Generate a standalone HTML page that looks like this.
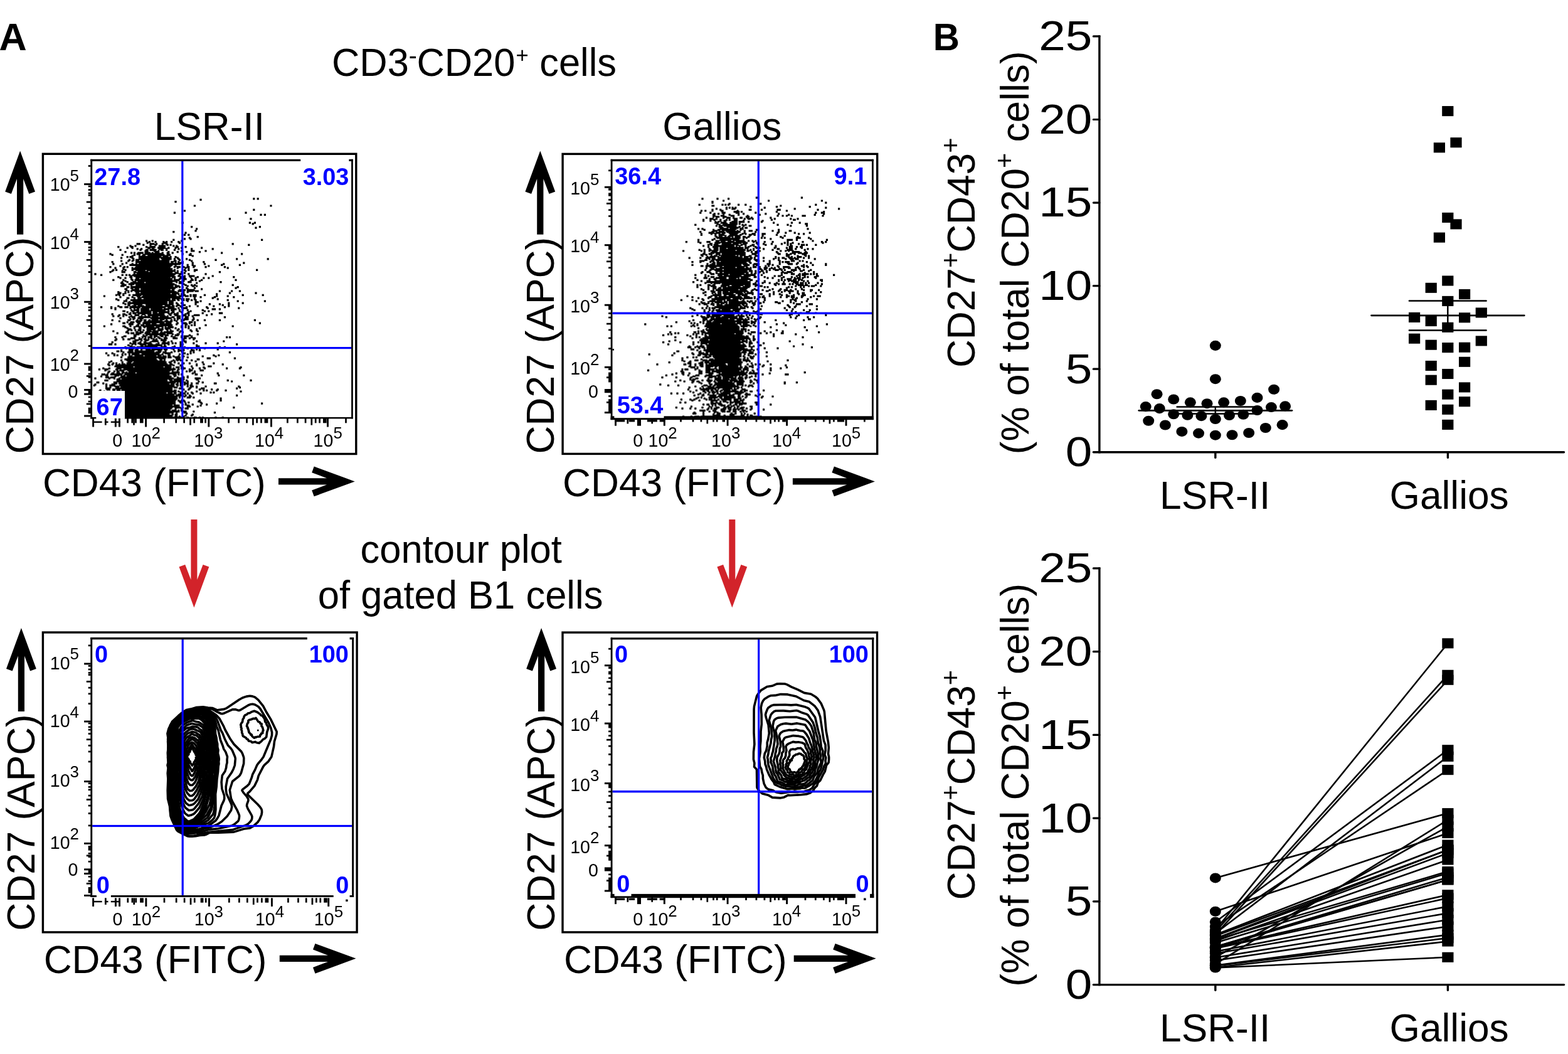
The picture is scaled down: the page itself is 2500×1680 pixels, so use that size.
<!DOCTYPE html>
<html lang="en"><head><meta charset="utf-8"><title>Figure: CD27+CD43+ B1 cells, LSR-II vs Gallios</title>
<style>html,body{margin:0;padding:0;background:#fff}body{width:2500px;height:1680px;overflow:hidden}svg{display:block}</style>
</head><body>
<svg xmlns="http://www.w3.org/2000/svg" width="2500" height="1680" viewBox="0 0 2500 1680" font-family="'Liberation Sans', Arial, Helvetica, sans-serif" fill="#000">
<rect x="0" y="0" width="2500" height="1680" fill="#fff"/>
<text transform="translate(-1.6,79.9)" font-size="61.2" font-weight="bold">A</text>
<text transform="translate(1487.8,79.9) scale(0.955,1)" font-size="61.2" font-weight="bold">B</text>
<text transform="translate(529,121.2) scale(1,1.02)" font-size="61.4"><tspan x="0" y="0">CD3</tspan><tspan x="122.8" y="-18.73" font-size="39">-</tspan><tspan x="135.4" y="0">CD20</tspan><tspan x="293.4" y="-21.08" font-size="34.6">+</tspan><tspan x="314.2" y="0"> cells</tspan></text>
<text transform="translate(333.8,223.3) scale(1,1.02)" font-size="62.2" text-anchor="middle">LSR-II</text>
<text transform="translate(1151.3,223.3) scale(1,1.02)" font-size="62.2" text-anchor="middle">Gallios</text>
<text transform="translate(735.2,896.6) scale(1,1.02)" font-size="61.5" text-anchor="middle">contour plot</text>
<text transform="translate(734.1,970.4) scale(1,1.02)" font-size="61.5" text-anchor="middle">of gated B1 cells</text>
<polygon points="309.4,968.6 333.3,903.6 323.6,900.1 314.4,924 314.4,827.9 304.4,827.9 304.4,924 295.2,900.1 285.5,903.6" fill="#d2232a"/>
<polygon points="1167.3,968.6 1191.2,903.6 1181.5,900.1 1172.3,924 1172.3,827.9 1162.3,827.9 1162.3,924 1153.1,900.1 1143.4,903.6" fill="#d2232a"/>
<rect x="68.4" y="245.3" width="499.4" height="478.2" fill="#fff" stroke="#000" stroke-width="3.4"/>
<text transform="translate(53.4,723.4) rotate(-90) scale(1,1.02)" font-size="62.2">CD27 (APC)</text>
<polygon points="32.1,240.5 56,305.5 46.3,309 37.2,285.1 37.2,373.7 27,373.7 27,285.1 17.9,309 8.2,305.5" fill="#000"/>
<text transform="translate(67.9,790.9) scale(1,1.02)" font-size="62.2">CD43 (FITC)</text>
<polygon points="565.7,767.4 500.7,791.3 497.2,781.6 521.1,772.5 444,772.5 444,762.3 521.1,762.3 497.2,753.2 500.7,743.5" fill="#000"/>
<path transform="scale(1.6)" d="M252 198h2m2 0h2m-59 1h2m-27 2h2m17 4h2m74 0h2m-19 4h2m-71 1h2m-12 2h2m69 0h2m13 2h2m2 0h2m-37 4h2m19 0h2m-70 4h2m65 0h2m3 0h2m-4 1h2m-63 3h2m66 0h2m-6 1h2m-61 1h2m-3 2h2m-24 1h2m10 1h2m-3 2h2m2 0h2m7 2h2m-10 1h2m-7 1h2m4 0h2m-19 1h2m86 0h2m-117 1h2m4 0h2m27 0h2m-34 1h2m4 0h2m6 0h2m1 0h2m3 0h2m5 0h2m-33 1h2m15 0h2m13 0h2m-44 1h4m9 0h5m1 0h2m4 0h2m2 0h2m64 0h2m-91 1h2m10 0h2m10 0h2m1 0h2m76 0h2m-120 1h2m3 0h2m13 0h2m7 0h7m7 0h2m1 0h2m-60 1h2m11 0h3m12 0h2m3 0h5m21 0h2m6 0h2m-60 1h2m3 0h2m14 0h3m1 0h2m4 0h8m2 0h2m5 0h2m4 0h2m18 0h2m-66 1h2m2 0h2m10 0h2m4 0h2m1 0h2m2 0h2m10 0h2m11 0h2m19 0h2m-94 1h2m18 0h2m4 0h3m1 0h7m4 0h3m2 0h2m6 0h2m-31 1h2m7 0h3m1 0h2m21 0h2m8 0h4m10 0h2m-82 1h2m20 0h2m6 0h5m8 0h2m7 0h2m7 0h2m11 0h2m-70 1h2m1 0h2m2 0h6m1 0h6m1 0h2m1 0h2m5 0h2m3 0h2m3 0h2m47 0h2m-113 1h2m25 0h4m4 0h19m4 0h2m12 0h2m6 0h2m49 0h2m-131 1h2m8 0h2m10 0h2m3 0h2m2 0h2m3 0h9m5 0h3m2 0h4m18 0h3m-60 1h2m8 0h4m2 0h14m1 0h5m24 0h2m-67 1h2m1 0h2m7 0h11m2 0h9m4 0h4m1 0h2m3 0h2m-56 1h2m9 0h2m6 0h3m1 0h8m9 0h4m1 0h4m7 0h2m-46 1h2m4 0h3m1 0h2m1 0h14m2 0h7m1 0h2m2 0h2m2 0h2m6 0h2m48 0h2m29 0h2m-140 1h2m2 0h2m1 0h4m1 0h2m1 0h4m1 0h11m2 0h8m4 0h2m3 0h2m8 0h2m24 0h2m-96 1h2m5 0h2m2 0h2m3 0h2m3 0h2m3 0h19m2 0h2m4 0h3m14 0h2m-81 1h2m22 0h7m1 0h25m2 0h3m1 0h2m1 0h2m2 0h2m19 0h2m-79 1h2m11 0h2m1 0h13m1 0h11m1 0h2m10 0h4m8 0h2m49 0h2m-132 1h2m7 0h2m8 0h2m2 0h2m2 0h3m3 0h18m1 0h3m1 0h12m23 0h2m17 0h2m-95 1h6m1 0h5m1 0h16m2 0h9m1 0h2m14 0h2m3 0h2m27 0h2m16 0h2m-121 1h2m14 0h22m1 0h4m2 0h7m3 0h2m17 0h2m12 0h2m-100 1h2m12 0h2m1 0h2m8 0h5m1 0h4m1 0h3m1 0h15m2 0h2m3 0h2m1 0h4m2 0h2m2 0h3m3 0h2m10 0h2m17 0h2m-111 1h2m6 0h2m7 0h2m1 0h3m1 0h2m1 0h29m6 0h2m6 0h2m1 0h2m37 0h2m-106 1h2m9 0h2m1 0h36m-60 1h2m1 0h2m7 0h2m5 0h2m2 0h2m2 0h3m4 0h19m1 0h6m1 0h2m8 0h2m2 0h2m4 0h4m58 0h2m-146 1h2m8 0h2m14 0h8m1 0h2m1 0h8m1 0h5m1 0h3m3 0h5m1 0h2m6 0h2m7 0h2m-86 1h2m10 0h4m8 0h3m2 0h6m1 0h3m1 0h9m2 0h12m4 0h2m2 0h2m36 0h2m-84 1h3m1 0h3m1 0h26m4 0h4m2 0h2m1 0h2m-91 1h2m37 0h2m1 0h21m1 0h10m1 0h6m3 0h3m6 0h2m15 0h2m-106 1h2m19 0h2m2 0h2m1 0h2m2 0h2m1 0h21m1 0h13m1 0h3m-44 1h2m1 0h7m2 0h29m1 0h2m3 0h3m3 0h2m3 0h6m17 0h2m-96 1h2m10 0h3m6 0h31m2 0h4m4 0h4m6 0h2m5 0h2m34 0h2m-115 1h2m3 0h2m9 0h4m1 0h3m1 0h10m1 0h15m10 0h5m9 0h2m6 0h2m3 0h2m-79 1h2m4 0h3m1 0h4m1 0h27m1 0h2m3 0h2m2 0h4m4 0h2m-80 1h2m8 0h2m7 0h2m1 0h8m2 0h11m1 0h14m4 0h5m12 0h2m1 0h2m4 0h2m32 0h2m-112 1h2m8 0h2m5 0h9m1 0h17m2 0h5m7 0h2m5 0h2m7 0h2m-79 1h2m3 0h2m4 0h2m3 0h7m1 0h26m4 0h2m1 0h3m6 0h4m28 0h2m-101 1h3m7 0h2m1 0h5m1 0h4m2 0h22m2 0h3m6 0h5m12 0h2m-75 1h2m4 0h6m3 0h37m8 0h2m-63 1h2m1 0h2m9 0h4m1 0h21m1 0h8m4 0h2m8 0h2m4 0h2m1 0h2m36 0h2m-113 1h4m6 0h2m3 0h27m1 0h10m3 0h3m7 0h2m3 0h3m1 0h2m-71 1h3m2 0h4m4 0h20m2 0h5m4 0h3m1 0h3m1 0h2m1 0h2m53 0h2m-108 1h2m2 0h5m3 0h2m1 0h19m2 0h6m1 0h2m10 0h2m6 0h2m39 0h2m-112 1h3m4 0h2m1 0h5m1 0h20m1 0h7m3 0h3m12 0h2m12 0h2m-77 1h2m5 0h2m1 0h2m3 0h30m8 0h7m1 0h8m-67 1h2m1 0h2m2 0h34m1 0h5m3 0h4m7 0h5m1 0h4m20 0h2m10 0h2m6 0h2m-123 1h2m5 0h2m1 0h2m6 0h4m1 0h2m1 0h16m1 0h5m1 0h10m6 0h2m2 0h2m-69 1h2m3 0h2m9 0h3m4 0h3m1 0h17m1 0h6m1 0h7m50 0h2m24 0h2m-139 1h2m3 0h2m13 0h11m2 0h15m1 0h3m4 0h3m1 0h2m1 0h4m31 0h2m-102 1h2m1 0h2m2 0h2m4 0h2m2 0h5m1 0h3m1 0h34m7 0h2m4 0h2m1 0h4m7 0h2m36 0h2m18 0h2m-160 1h2m31 0h2m4 0h27m3 0h4m2 0h5m1 0h4m1 0h2m1 0h4m19 0h2m9 0h2m-109 1h2m10 0h2m5 0h2m1 0h10m1 0h4m1 0h5m1 0h2m3 0h4m1 0h6m20 0h2m12 0h2m17 0h2m-108 1h3m4 0h2m2 0h4m2 0h4m2 0h14m2 0h4m2 0h2m1 0h3m1 0h2m13 0h2m16 0h2m-98 1h2m20 0h4m2 0h3m1 0h8m1 0h14m1 0h3m2 0h3m1 0h4m1 0h4m4 0h2m21 0h2m-101 1h2m6 0h2m3 0h40m2 0h3m2 0h2m2 0h3m1 0h3m2 0h2m2 0h2m30 0h2m-105 1h4m8 0h32m1 0h4m14 0h2m6 0h2m3 0h2m35 0h2m25 0h2m-137 1h2m2 0h3m3 0h2m1 0h11m1 0h4m2 0h2m2 0h3m5 0h2m23 0h2m-76 1h2m3 0h20m1 0h2m1 0h8m1 0h7m1 0h5m2 0h2m3 0h3m11 0h2m31 0h2m12 0h2m-119 1h2m9 0h7m4 0h6m1 0h4m1 0h9m1 0h3m5 0h2m3 0h2m11 0h2m12 0h2m8 0h2m-93 1h3m3 0h3m2 0h4m3 0h14m6 0h5m1 0h2m4 0h2m3 0h3m36 0h2m4 0h2m-112 1h2m12 0h2m1 0h2m1 0h7m1 0h17m2 0h6m2 0h2m1 0h2m2 0h2m7 0h2m6 0h2m14 0h2m13 0h2m-129 1h2m8 0h2m7 0h3m2 0h4m1 0h8m1 0h2m1 0h16m1 0h7m2 0h2m1 0h2m8 0h2m3 0h2m18 0h2m16 0h2m-115 1h2m2 0h2m13 0h2m6 0h2m5 0h2m1 0h2m1 0h12m1 0h2m3 0h3m1 0h2m3 0h2m3 0h5m19 0h2m29 0h2m-125 1h2m17 0h2m1 0h2m2 0h8m3 0h3m1 0h6m3 0h5m1 0h3m1 0h2m5 0h2m28 0h4m3 0h2m-90 1h2m2 0h5m1 0h3m1 0h5m1 0h2m1 0h12m5 0h4m4 0h2m1 0h2m3 0h2m13 0h2m-81 1h3m6 0h3m2 0h3m1 0h8m1 0h2m1 0h8m7 0h2m3 0h2m4 0h2m9 0h2m12 0h2m2 0h2m-83 1h2m4 0h2m2 0h2m2 0h2m1 0h8m2 0h4m1 0h10m3 0h3m6 0h2m5 0h2m-60 1h2m1 0h4m1 0h6m2 0h6m1 0h4m2 0h6m3 0h2m1 0h2m4 0h2m8 0h2m13 0h2m15 0h4m-111 1h2m9 0h3m3 0h3m10 0h4m2 0h2m3 0h9m1 0h2m4 0h2m3 0h3m8 0h2m1 0h2m21 0h2m-94 1h2m5 0h2m7 0h5m8 0h5m2 0h9m6 0h2m3 0h4m4 0h4m1 0h2m4 0h6m6 0h2m-95 1h2m3 0h2m3 0h2m6 0h2m8 0h2m2 0h2m1 0h2m2 0h7m1 0h3m1 0h2m1 0h2m10 0h2m1 0h2m8 0h2m-65 1h2m1 0h4m3 0h12m1 0h6m3 0h4m1 0h3m3 0h3m2 0h2m6 0h4m35 0h2m-106 1h2m11 0h3m2 0h6m7 0h3m4 0h14m7 0h2m12 0h2m-65 1h2m1 0h2m18 0h6m1 0h2m1 0h2m9 0h2m1 0h2m5 0h5m4 0h2m-83 1h2m14 0h3m6 0h2m1 0h3m1 0h3m2 0h2m1 0h2m2 0h2m3 0h2m3 0h2m3 0h2m1 0h2m5 0h4m7 0h2m3 0h2m5 0h2m13 0h2m33 0h2m-137 1h2m15 0h6m2 0h2m2 0h14m3 0h4m1 0h3m3 0h2m3 0h2m-56 1h2m2 0h4m2 0h3m6 0h2m2 0h3m1 0h11m1 0h6m17 0h4m1 0h2m-73 1h3m4 0h3m5 0h3m2 0h3m1 0h3m2 0h5m4 0h2m3 0h6m5 0h2m3 0h5m2 0h2m68 0h2m-150 1h2m16 0h2m1 0h2m4 0h2m3 0h2m1 0h5m1 0h4m4 0h6m10 0h2m8 0h2m6 0h2m-66 1h2m5 0h2m2 0h2m3 0h2m2 0h2m3 0h5m1 0h2m1 0h9m12 0h2m4 0h2m1 0h2m9 0h2m-103 1h2m17 0h3m4 0h2m4 0h4m3 0h8m1 0h3m2 0h7m1 0h2m1 0h4m9 0h2m2 0h2m1 0h2m42 0h2m-109 1h2m7 0h2m4 0h2m2 0h2m1 0h7m2 0h4m2 0h2m1 0h2m3 0h4m7 0h2m2 0h2m-60 1h2m5 0h2m3 0h3m6 0h2m3 0h4m1 0h2m5 0h6m4 0h2m11 0h2m9 0h2m-73 1h4m15 0h2m1 0h5m3 0h6m2 0h3m9 0h2m16 0h2m-70 1h2m1 0h2m2 0h2m1 0h4m1 0h2m2 0h5m2 0h2m2 0h5m7 0h2m5 0h2m11 0h2m4 0h2m-85 1h2m12 0h2m11 0h2m5 0h5m1 0h5m9 0h2m2 0h3m6 0h3m8 0h2m4 0h2m-73 1h2m8 0h3m3 0h2m2 0h3m3 0h2m1 0h4m2 0h2m1 0h8m7 0h2m1 0h2m-67 1h2m9 0h2m1 0h4m4 0h3m3 0h2m2 0h2m3 0h5m1 0h6m3 0h4m-37 1h4m6 0h4m1 0h9m3 0h3m1 0h2m3 0h2m3 0h3m17 0h2m-65 1h2m7 0h2m1 0h2m2 0h2m2 0h2m4 0h4m1 0h4m6 0h4m10 0h2m-67 1h3m7 0h3m7 0h2m4 0h3m3 0h2m3 0h3m1 0h2m4 0h2m8 0h2m1 0h5m2 0h2m-78 1h2m5 0h2m18 0h2m1 0h2m1 0h3m3 0h2m2 0h2m13 0h3m5 0h2m8 0h2m33 0h2m1 0h2m-100 1h5m3 0h2m7 0h2m1 0h2m6 0h2m3 0h4m5 0h5m6 0h3m2 0h2m2 0h3m-80 1h2m5 0h2m3 0h3m8 0h4m1 0h3m1 0h2m3 0h2m1 0h2m3 0h2m1 0h2m17 0h2m8 0h2m-80 1h2m18 0h4m2 0h2m4 0h2m5 0h3m4 0h3m1 0h2m16 0h2m-52 1h2m10 0h2m5 0h7m4 0h2m6 0h2m11 0h3m9 0h2m25 0h2m-113 1h2m21 0h2m3 0h2m2 0h2m4 0h2m12 0h2m2 0h2m10 0h2m3 0h2m-57 1h2m1 0h2m3 0h2m6 0h4m8 0h2m2 0h8m2 0h2m1 0h2m16 0h2m10 0h2m10 0h2m-110 1h4m2 0h2m15 0h2m1 0h2m3 0h7m1 0h5m3 0h3m5 0h2m2 0h2m10 0h4m52 0h2m-110 1h2m23 0h10m1 0h2m30 0h2m-68 1h3m8 0h3m1 0h12m4 0h2m2 0h2m7 0h2m4 0h2m14 0h4m-75 1h2m6 0h3m1 0h8m2 0h5m3 0h3m4 0h4m6 0h2m10 0h2m33 0h2m3 0h2m-100 1h2m1 0h3m1 0h2m7 0h6m1 0h2m1 0h9m5 0h2m3 0h3m13 0h2m15 0h2m-74 1h2m2 0h3m2 0h2m4 0h3m3 0h6m2 0h2m1 0h4m5 0h2m3 0h2m3 0h2m6 0h2m3 0h2m1 0h2m16 0h2m-98 1h2m6 0h4m2 0h2m9 0h2m1 0h5m4 0h3m19 0h2m1 0h2m7 0h3m4 0h2m-84 1h3m1 0h2m9 0h2m3 0h10m1 0h3m2 0h2m3 0h4m3 0h2m7 0h2m2 0h2m1 0h3m6 0h2m-69 1h2m3 0h5m2 0h20m1 0h2m1 0h2m2 0h2m6 0h2m20 0h2m34 0h2m-125 1h2m4 0h2m19 0h3m6 0h2m3 0h2m2 0h2m1 0h6m5 0h6m11 0h4m4 0h2m-78 1h2m6 0h2m1 0h2m2 0h2m1 0h8m3 0h11m2 0h4m2 0h2m15 0h2m6 0h2m-81 1h2m4 0h2m1 0h2m3 0h2m11 0h3m2 0h4m2 0h11m3 0h2m6 0h3m11 0h2m29 0h2m3 0h2m-91 1h4m3 0h5m1 0h2m1 0h3m1 0h2m2 0h2m3 0h4m1 0h4m2 0h2m2 0h2m3 0h2m3 0h2m17 0h2m11 0h2m-96 1h2m5 0h2m3 0h30m2 0h2m1 0h4m3 0h6m6 0h2m-59 1h4m1 0h6m1 0h12m5 0h7m13 0h2m1 0h2m23 0h4m23 0h2m-111 1h22m1 0h3m3 0h3m19 0h4m17 0h3m-79 1h2m4 0h2m1 0h11m2 0h15m2 0h3m1 0h2m7 0h2m2 0h2m1 0h2m4 0h2m3 0h2m-82 1h2m15 0h5m1 0h3m1 0h14m1 0h8m1 0h3m6 0h2m1 0h2m19 0h2m-88 1h2m11 0h2m10 0h2m1 0h2m1 0h18m2 0h4m1 0h2m2 0h3m2 0h2m26 0h2m-91 1h2m1 0h2m9 0h5m1 0h19m2 0h11m5 0h2m6 0h2m2 0h3m4 0h2m22 0h2m-107 1h2m2 0h2m5 0h2m1 0h4m1 0h33m1 0h7m3 0h2m23 0h2m5 0h2m17 0h2m-115 1h2m5 0h8m1 0h2m1 0h31m1 0h11m2 0h2m5 0h3m13 0h2m-83 1h2m7 0h4m2 0h3m2 0h2m1 0h26m3 0h2m1 0h2m19 0h2m15 0h4m-95 1h17m1 0h13m1 0h15m1 0h2m1 0h4m4 0h4m1 0h3m19 0h2m35 0h2m-139 1h2m4 0h2m7 0h4m2 0h2m1 0h11m1 0h23m1 0h8m2 0h2m3 0h2m1 0h2m1 0h2m6 0h2m5 0h2m3 0h2m20 0h2m11 0h2m-142 1h2m4 0h4m7 0h2m6 0h41m3 0h8m2 0h2m2 0h2m5 0h2m-86 1h2m10 0h2m1 0h5m3 0h43m6 0h2m10 0h4m7 0h4m-95 1h2m3 0h2m2 0h2m2 0h2m5 0h37m1 0h3m2 0h2m12 0h2m1 0h2m3 0h2m-88 1h2m7 0h3m2 0h3m1 0h2m1 0h7m1 0h2m1 0h27m7 0h6m14 0h2m-84 1h3m4 0h2m1 0h2m1 0h11m1 0h23m1 0h2m1 0h10m1 0h2m15 0h2m23 0h2m-117 1h4m1 0h2m2 0h12m2 0h44m4 0h3m2 0h2m1 0h2m12 0h3m-92 1h3m8 0h3m1 0h2m1 0h2m1 0h43m5 0h2m24 0h2m15 0h2m23 0h2m-144 1h2m3 0h2m7 0h2m4 0h4m2 0h34m1 0h10m2 0h2m6 0h2m3 0h2m-83 1h4m1 0h5m5 0h6m5 0h40m5 0h2m4 0h2m2 0h2m-94 1h2m12 0h2m3 0h2m3 0h2m3 0h40m1 0h5m2 0h2m3 0h5m13 0h6m-84 1h4m1 0h2m1 0h43m1 0h4m1 0h4m5 0h2m11 0h3m-94 1h4m9 0h4m1 0h45m2 0h2m3 0h8m3 0h2m39 0h2m21 0h2m-135 1h2m1 0h48m2 0h5m1 0h2m1 0h5m3 0h2m9 0h2m31 0h2m-136 1h3m14 0h3m2 0h57m1 0h2m5 0h2m16 0h2m-101 1h2m11 0h2m1 0h5m1 0h42m4 0h2m7 0h3m3 0h3m2 0h2m3 0h3m15 0h3m-122 1h2m9 0h2m4 0h4m4 0h2m1 0h42m1 0h4m1 0h4m1 0h3m5 0h2m1 0h2m2 0h2m-99 1h2m10 0h2m2 0h6m4 0h44m1 0h10m2 0h2m1 0h2m8 0h2m-82 1h2m3 0h5m1 0h4m1 0h49m6 0h2m4 0h2m3 0h2m2 0h2m7 0h2m31 0h2m-134 1h2m2 0h2m4 0h3m3 0h51m1 0h4m12 0h2m4 0h2m41 0h2m-135 1h4m6 0h52m3 0h2m6 0h4m6 0h2m10 0h4m31 0h2m-131 1h4m2 0h3m2 0h3m1 0h50m11 0h2m3 0h2m9 0h2m10 0h2m4 0h2m-119 1h2m15 0h4m3 0h46m1 0h2m1 0h3m26 0h2m1 0h2m8 0h2m7 0h2m-128 1h2m3 0h2m7 0h3m3 0h58m1 0h2m5 0h2m9 0h2m42 0h2m-127 1h2m2 0h48m1 0h4m8 0h2m9 0h2m17 0h2m1 0h2m-115 1h2m12 0h10m2 0h41m1 0h5m1 0h3m3 0h2m1 0h3m1 0h2m3 0h2m6 0h2m-96 1h2m11 0h51m1 0h4m3 0h2m-65 1h2m2 0h56m1 0h8m1 0h2m2 0h2m45 0h2m-144 1h2m15 0h2m3 0h2m1 0h59m1 0h2m3 0h2m4 0h2m-70 1h50m1 0h2m1 0h2m1 0h2m6 0h4m2 0h2m-90 1h5m4 0h2m2 0h2m2 0h49m1 0h6m42 0h2m-125 1h2m6 0h5m2 0h3m1 0h2m2 0h52m1 0h4m-72 1h2m3 0h6m1 0h2m1 0h45m1 0h5m1 0h4m2 0h2m1 0h4m14 0h2m19 0h2m-112 1h3m7 0h3m2 0h4m1 0h44m5 0h2m3 0h2m12 0h2m-102 1h2m4 0h2m6 0h4m2 0h2m1 0h2m1 0h49m1 0h2m4 0h3m5 0h2m10 0h2m-90 1h2m3 0h5m2 0h5m1 0h41m1 0h4m9 0h2m14 0h2m13 0h2m43 0h2m-155 1h2m7 0h4m3 0h49m1 0h2m6 0h2m1 0h2m5 0h2m12 0h2m-88 1h6m2 0h43m5 0h4m7 0h3m10 0h2m-103 1h2m3 0h2m3 0h2m4 0h4m4 0h46m2 0h7m9 0h4m6 0h2m-86 1h2m1 0h2m3 0h52m4 0h4m1 0h2m49 0h2m-125 1h2m4 0h2m3 0h2m2 0h47m3 0h2m4 0h2m2 0h4m-76 1h2m5 0h2m1 0h2m1 0h38m1 0h3m13 0h2m-78 1h2m1 0h2m9 0h2m3 0h3m1 0h43m1 0h5m1 0h2m1 0h2m-59 1h2m1 0h53m3 0h4m6 0h2m-75 1h2m1 0h41m1 0h8m11 0h2m28 0h2m-99 1h6m1 0h46m2 0h2m2 0h2m8 0h2m-80 1h2m6 0h2m5 0h4m1 0h42m2 0h2m1 0h3m14 0h2m-79 1h4m3 0h41m1 0h3m1 0h4m4 0h2m7 0h2m4 0h2m-77 1h2m1 0h2m3 0h49m2 0h2m2 0h2m2 0h2m-83 1h2m2 0h3m2 0h74m2 0h2m5 0h3m2 0h2m1 0h2m11 0h2m5 0h2" fill="none" stroke="#000" stroke-width="2"/>
<rect x="289.2" y="257" width="3.2" height="407.9" fill="#0000ff"/>
<rect x="147.2" y="553" width="412.9" height="3.2" fill="#0000ff"/>
<rect x="144.3" y="253.8" width="2.9" height="413.6" fill="#000"/>
<rect x="560.1" y="253.8" width="2.7" height="413.6" fill="#000"/>
<rect x="144.3" y="253.8" width="334.9" height="3.2" fill="#000"/>
<rect x="556.4" y="253.8" width="6.4" height="3.2" fill="#000"/>
<rect x="147.2" y="623" width="51.8" height="44.7" fill="#fff"/>
<rect x="144.3" y="664.9" width="9" height="2.5" fill="#000"/>
<rect x="199" y="664.9" width="363.8" height="2.5" fill="#000"/>
<rect x="134.1" y="292.15" width="10.7" height="2.9" fill="#000"/>
<rect x="134.1" y="384.15" width="10.7" height="2.9" fill="#000"/>
<rect x="134.1" y="479.75" width="10.7" height="2.9" fill="#000"/>
<rect x="134.1" y="578.55" width="10.7" height="2.9" fill="#000"/>
<rect x="134.1" y="619.95" width="10.7" height="2.9" fill="#000"/>
<rect x="134.1" y="626.65" width="10.7" height="2.9" fill="#000"/>
<rect x="134.1" y="661.55" width="10.7" height="2.9" fill="#000"/>
<rect x="137.8" y="320.65" width="7" height="2.7" fill="#000"/>
<rect x="137.8" y="412.95" width="7" height="2.7" fill="#000"/>
<rect x="137.8" y="508.75" width="7" height="2.7" fill="#000"/>
<rect x="137.8" y="598.05" width="7" height="2.7" fill="#000"/>
<rect x="137.8" y="642.55" width="7" height="2.7" fill="#000"/>
<rect x="140.7" y="263.15" width="4.1" height="2.7" fill="#000"/>
<rect x="140.7" y="295.65" width="4.1" height="2.7" fill="#000"/>
<rect x="140.7" y="301.25" width="4.1" height="2.7" fill="#000"/>
<rect x="140.7" y="306.65" width="4.1" height="2.7" fill="#000"/>
<rect x="140.7" y="309.85" width="4.1" height="2.7" fill="#000"/>
<rect x="140.7" y="330.45" width="4.1" height="2.7" fill="#000"/>
<rect x="140.7" y="340.05" width="4.1" height="2.7" fill="#000"/>
<rect x="140.7" y="355.85" width="4.1" height="2.7" fill="#000"/>
<rect x="140.7" y="387.25" width="4.1" height="2.7" fill="#000"/>
<rect x="140.7" y="393.05" width="4.1" height="2.7" fill="#000"/>
<rect x="140.7" y="397.35" width="4.1" height="2.7" fill="#000"/>
<rect x="140.7" y="403.75" width="4.1" height="2.7" fill="#000"/>
<rect x="140.7" y="422.65" width="4.1" height="2.7" fill="#000"/>
<rect x="140.7" y="432.25" width="4.1" height="2.7" fill="#000"/>
<rect x="140.7" y="448.25" width="4.1" height="2.7" fill="#000"/>
<rect x="140.7" y="482.95" width="4.1" height="2.7" fill="#000"/>
<rect x="140.7" y="488.65" width="4.1" height="2.7" fill="#000"/>
<rect x="140.7" y="493.05" width="4.1" height="2.7" fill="#000"/>
<rect x="140.7" y="502.35" width="4.1" height="2.7" fill="#000"/>
<rect x="140.7" y="518.35" width="4.1" height="2.7" fill="#000"/>
<rect x="140.7" y="530.75" width="4.1" height="2.7" fill="#000"/>
<rect x="140.7" y="550.15" width="4.1" height="2.7" fill="#000"/>
<rect x="140.7" y="594.65" width="4.1" height="2.7" fill="#000"/>
<rect x="140.7" y="599.95" width="4.1" height="2.7" fill="#000"/>
<rect x="140.7" y="607.55" width="4.1" height="2.7" fill="#000"/>
<rect x="140.7" y="631.55" width="4.1" height="2.7" fill="#000"/>
<rect x="140.7" y="638.65" width="4.1" height="2.7" fill="#000"/>
<rect x="140.7" y="583.6" width="4.1" height="7.6" fill="#000"/>
<rect x="140.7" y="621.4" width="4.1" height="6.7" fill="#000"/>
<rect x="140.7" y="649.6" width="4.1" height="9.6" fill="#000"/>
<rect x="147.15" y="666.9" width="2.9" height="13.6" fill="#000"/>
<rect x="182.85" y="666.9" width="2.9" height="13.6" fill="#000"/>
<rect x="188.95" y="666.9" width="2.9" height="13.6" fill="#000"/>
<rect x="231.15" y="666.9" width="2.9" height="13.6" fill="#000"/>
<rect x="331.35" y="666.9" width="2.9" height="13.6" fill="#000"/>
<rect x="431.05" y="666.9" width="2.9" height="13.6" fill="#000"/>
<rect x="521.05" y="666.9" width="2.9" height="13.6" fill="#000"/>
<rect x="166.95" y="666.9" width="2.7" height="10.7" fill="#000"/>
<rect x="212.15" y="666.9" width="2.7" height="10.7" fill="#000"/>
<rect x="302.15" y="666.9" width="2.7" height="10.7" fill="#000"/>
<rect x="402.05" y="666.9" width="2.7" height="10.7" fill="#000"/>
<rect x="495.45" y="666.9" width="2.7" height="10.7" fill="#000"/>
<rect x="202.25" y="666.9" width="2.7" height="7.4" fill="#000"/>
<rect x="209.35" y="666.9" width="2.7" height="7.4" fill="#000"/>
<rect x="215.15" y="666.9" width="2.7" height="7.4" fill="#000"/>
<rect x="260.25" y="666.9" width="2.7" height="7.4" fill="#000"/>
<rect x="279.35" y="666.9" width="2.7" height="7.4" fill="#000"/>
<rect x="292.25" y="666.9" width="2.7" height="7.4" fill="#000"/>
<rect x="308.35" y="666.9" width="2.7" height="7.4" fill="#000"/>
<rect x="326.25" y="666.9" width="2.7" height="7.4" fill="#000"/>
<rect x="363.25" y="666.9" width="2.7" height="7.4" fill="#000"/>
<rect x="379.25" y="666.9" width="2.7" height="7.4" fill="#000"/>
<rect x="392.15" y="666.9" width="2.7" height="7.4" fill="#000"/>
<rect x="408.25" y="666.9" width="2.7" height="7.4" fill="#000"/>
<rect x="415.15" y="666.9" width="2.7" height="7.4" fill="#000"/>
<rect x="457.05" y="666.9" width="2.7" height="7.4" fill="#000"/>
<rect x="473.05" y="666.9" width="2.7" height="7.4" fill="#000"/>
<rect x="485.75" y="666.9" width="2.7" height="7.4" fill="#000"/>
<rect x="501.85" y="666.9" width="2.7" height="7.4" fill="#000"/>
<rect x="508.25" y="666.9" width="2.7" height="7.4" fill="#000"/>
<rect x="550.15" y="666.9" width="2.7" height="7.4" fill="#000"/>
<rect x="222.9" y="666.9" width="5.7" height="7.4" fill="#000"/>
<rect x="319.1" y="666.9" width="4.7" height="7.4" fill="#000"/>
<rect x="421.6" y="666.9" width="5.7" height="7.4" fill="#000"/>
<rect x="515" y="666.9" width="5.6" height="7.4" fill="#000"/>
<rect x="149.9" y="671.5" width="12.7" height="2.4" fill="#000"/>
<rect x="166.9" y="671.5" width="5.6" height="2.4" fill="#000"/>
<rect x="176.8" y="671.5" width="15" height="2.4" fill="#000"/>
<text transform="translate(126,304.3)" font-size="28.6" text-anchor="end">10<tspan font-size="25.9" dy="-15.4">5</tspan></text>
<text transform="translate(126,396.9)" font-size="28.6" text-anchor="end">10<tspan font-size="25.9" dy="-15.4">4</tspan></text>
<text transform="translate(126,492.1)" font-size="28.6" text-anchor="end">10<tspan font-size="25.9" dy="-15.4">3</tspan></text>
<text transform="translate(126,590.7)" font-size="28.6" text-anchor="end">10<tspan font-size="25.9" dy="-15.4">2</tspan></text>
<text transform="translate(124.4,633.7)" font-size="28.6" text-anchor="end">0</text>
<text transform="translate(187.3,712.4)" font-size="28.6" text-anchor="middle">0</text>
<text transform="translate(232.7,712.4)" font-size="28.6" text-anchor="middle">10<tspan font-size="25.9" dy="-13.1">2</tspan></text>
<text transform="translate(332.3,712.4)" font-size="28.6" text-anchor="middle">10<tspan font-size="25.9" dy="-13.1">3</tspan></text>
<text transform="translate(429.1,712.4)" font-size="28.6" text-anchor="middle">10<tspan font-size="25.9" dy="-13.1">4</tspan></text>
<text transform="translate(522.7,712.4)" font-size="28.6" text-anchor="middle">10<tspan font-size="25.9" dy="-13.1">5</tspan></text>
<text transform="translate(150.3,295.2) scale(1,1.04)" font-size="37.9" font-weight="bold" fill="#0000ff">27.8</text>
<text transform="translate(556.4,295.2) scale(1,1.04)" font-size="37.9" text-anchor="end" font-weight="bold" fill="#0000ff">3.03</text>
<text transform="translate(153.6,661.7) scale(1,1.04)" font-size="37.9" font-weight="bold" fill="#0000ff">67</text>
<rect x="897.1" y="245.4" width="501.6" height="478" fill="#fff" stroke="#000" stroke-width="3.4"/>
<text transform="translate(882.6,723.4) rotate(-90) scale(1,1.02)" font-size="62.2">CD27 (APC)</text>
<polygon points="861.3,240.5 885.2,305.5 875.5,309 866.4,285.1 866.4,373.7 856.2,373.7 856.2,285.1 847.1,309 837.4,305.5" fill="#000"/>
<text transform="translate(897.1,790.9) scale(1,1.02)" font-size="62.2">CD43 (FITC)</text>
<polygon points="1394.9,767.4 1329.9,791.3 1326.4,781.6 1350.3,772.5 1263.9,772.5 1263.9,762.3 1350.3,762.3 1326.4,753.2 1329.9,743.5" fill="#000"/>
<path transform="scale(1.6)" d="M753 197h2m43 0h2m-101 1h2m13 0h2m9 0h2m-7 2h2m43 0h2m51 0h2m-111 1h2m-2 1h2m111 0h2m-98 1h2m29 0h2m-63 1h2m21 0h2m1 0h2m1 0h2m8 0h2m5 0h2m68 0h2m-105 1h3m65 0h2m-32 1h2m24 0h2m31 0h2m-85 1h2m1 0h2m1 0h2m1 0h2m27 0h2m59 0h2m-111 1h2m8 0h2m4 0h4m58 0h2m42 0h2m-128 1h2m6 0h2m27 0h3m9 0h2m14 0h4m36 0h2m-118 1h2m2 0h2m5 0h2m7 0h3m13 0h2m47 0h2m-54 1h6m1 0h2m33 0h2m45 0h2m-125 1h2m8 0h2m10 0h4m10 0h4m15 0h2m58 0h2m4 0h2m-109 1h2m2 0h2m23 0h2m20 0h2m11 0h2m43 0h2m-112 1h2m8 0h2m4 0h2m7 0h2m19 0h2m27 0h2m24 0h2m-102 1h2m5 0h4m6 0h4m12 0h2m28 0h2m3 0h2m2 0h2m3 0h2m9 0h4m16 0h2m-111 1h2m1 0h4m5 0h2m19 0h4m-44 1h2m15 0h2m2 0h4m2 0h2m5 0h3m4 0h2m2 0h2m17 0h2m-62 1h4m2 0h2m16 0h4m6 0h2m2 0h3m1 0h2m20 0h2m14 0h2m5 0h2m-96 1h2m9 0h2m4 0h2m4 0h2m1 0h2m40 0h2m20 0h3m-93 1h2m5 0h2m8 0h2m2 0h2m8 0h4m5 0h2m17 0h2m-49 1h2m1 0h2m4 0h3m5 0h3m1 0h2m1 0h6m3 0h2m11 0h2m-48 1h4m2 0h5m4 0h2m1 0h3m37 0h2m16 0h2m6 0h2m-84 1h2m7 0h2m2 0h8m1 0h2m64 0h3m-113 1h2m22 0h2m2 0h11m8 0h2m1 0h2m30 0h2m8 0h2m-73 1h2m1 0h4m1 0h4m3 0h6m6 0h2m4 0h3m38 0h2m14 0h2m-89 1h4m5 0h9m2 0h2m-20 1h3m3 0h2m5 0h2m1 0h2m3 0h2m1 0h3m16 0h2m-68 1h2m2 0h2m16 0h9m1 0h7m3 0h4m63 0h2m-105 1h2m7 0h2m3 0h3m1 0h4m3 0h3m8 0h2m14 0h2m20 0h2m-66 1h4m1 0h2m2 0h2m1 0h10m1 0h2m5 0h2m3 0h4m19 0h2m15 0h3m-92 1h2m10 0h3m1 0h2m3 0h2m4 0h4m1 0h9m14 0h2m21 0h2m-71 1h3m1 0h2m2 0h4m1 0h4m3 0h10m5 0h2m31 0h2m6 0h2m7 0h2m13 0h2m-110 1h2m8 0h2m2 0h2m5 0h3m11 0h2m4 0h2m1 0h2m5 0h4m6 0h4m32 0h2m3 0h2m-104 1h2m16 0h3m1 0h2m5 0h8m2 0h2m7 0h3m2 0h2m20 0h2m-63 1h2m2 0h4m2 0h2m2 0h3m3 0h6m8 0h2m11 0h2m20 0h2m-70 1h2m1 0h4m2 0h2m1 0h2m2 0h2m1 0h2m6 0h3m2 0h2m30 0h2m15 0h2m-82 1h14m5 0h5m5 0h2m13 0h2m1 0h2m16 0h2m12 0h5m7 0h2m-96 1h2m9 0h5m1 0h9m3 0h2m25 0h2m38 0h2m-114 1h2m12 0h2m6 0h11m3 0h4m49 0h6m3 0h2m28 0h2m-112 1h4m3 0h3m2 0h4m1 0h2m1 0h9m3 0h2m2 0h2m1 0h2m55 0h2m-128 1h2m10 0h2m7 0h4m6 0h3m1 0h5m3 0h6m2 0h9m7 0h2m9 0h2m6 0h2m13 0h2m13 0h2m17 0h2m2 0h2m-127 1h2m13 0h2m1 0h3m2 0h8m2 0h9m3 0h3m8 0h2m26 0h2m6 0h2m28 0h2m-114 1h3m2 0h4m3 0h3m1 0h6m3 0h2m6 0h4m10 0h2m4 0h2m6 0h2m8 0h2m4 0h2m1 0h2m6 0h2m-92 1h2m1 0h2m1 0h2m6 0h2m1 0h6m1 0h3m1 0h3m2 0h2m9 0h3m10 0h2m20 0h2m1 0h2m9 0h4m1 0h2m7 0h2m-114 1h2m9 0h21m1 0h2m1 0h2m4 0h2m3 0h2m1 0h2m20 0h2m14 0h2m8 0h2m-95 1h2m3 0h6m5 0h6m2 0h2m2 0h2m7 0h2m1 0h2m5 0h2m1 0h2m15 0h2m12 0h4m3 0h2m2 0h2m-88 1h5m1 0h5m3 0h16m1 0h4m7 0h2m1 0h2m13 0h2m10 0h2m13 0h2m-94 1h2m4 0h2m4 0h6m3 0h8m2 0h2m11 0h2m8 0h2m12 0h3m9 0h4m2 0h2m10 0h2m3 0h2m-115 1h2m3 0h2m4 0h2m2 0h2m1 0h2m1 0h5m2 0h8m2 0h9m1 0h2m1 0h2m1 0h2m17 0h2m13 0h6m11 0h2m-123 1h2m16 0h2m6 0h2m1 0h6m2 0h16m3 0h3m5 0h3m7 0h4m19 0h2m3 0h2m1 0h2m2 0h2m-90 1h2m7 0h5m2 0h2m1 0h3m1 0h12m1 0h5m6 0h2m2 0h2m19 0h2m16 0h6m5 0h2m-96 1h4m2 0h3m2 0h24m10 0h2m19 0h2m13 0h4m2 0h4m2 0h4m-105 1h3m3 0h2m5 0h5m1 0h7m1 0h8m1 0h6m7 0h5m21 0h3m5 0h2m2 0h2m2 0h2m6 0h2m-103 1h2m3 0h2m3 0h2m6 0h2m1 0h10m1 0h3m1 0h2m1 0h6m40 0h4m14 0h3m-105 1h2m10 0h4m3 0h14m2 0h2m2 0h2m6 0h3m3 0h3m28 0h4m7 0h2m6 0h2m1 0h2m-103 1h2m1 0h6m2 0h2m2 0h8m1 0h8m1 0h3m1 0h5m1 0h2m23 0h2m11 0h2m1 0h2m4 0h5m-113 1h2m9 0h2m4 0h4m10 0h9m1 0h2m2 0h4m1 0h2m4 0h3m3 0h2m1 0h2m7 0h2m10 0h2m1 0h2m2 0h3m4 0h2m3 0h2m1 0h2m4 0h2m3 0h2m-101 1h2m1 0h4m2 0h13m1 0h8m1 0h4m1 0h6m2 0h2m17 0h2m10 0h2m3 0h4m1 0h4m15 0h2m-111 1h3m5 0h2m1 0h2m2 0h12m1 0h2m1 0h15m4 0h3m20 0h2m-80 1h5m6 0h4m2 0h3m8 0h9m5 0h8m6 0h4m3 0h2m4 0h2m8 0h2m10 0h4m4 0h2m1 0h2m-112 1h2m6 0h2m8 0h2m6 0h2m1 0h12m2 0h10m4 0h2m18 0h2m8 0h2m1 0h2m1 0h5m16 0h2m-95 1h3m1 0h7m3 0h11m1 0h4m1 0h3m3 0h2m35 0h2m8 0h2m11 0h2m-105 1h2m3 0h4m1 0h10m3 0h12m1 0h5m6 0h6m7 0h4m8 0h2m7 0h5m3 0h2m27 0h2m-135 1h2m16 0h5m4 0h2m1 0h3m1 0h4m1 0h8m5 0h2m1 0h3m3 0h2m1 0h2m14 0h2m29 0h2m7 0h2m11 0h2m-126 1h3m2 0h6m3 0h8m1 0h18m3 0h2m18 0h2m1 0h2m7 0h2m22 0h2m3 0h2m-98 1h7m3 0h2m4 0h10m1 0h3m1 0h4m1 0h2m5 0h4m2 0h2m17 0h2m3 0h7m7 0h2m4 0h2m2 0h2m-103 1h2m3 0h3m6 0h7m1 0h8m1 0h6m4 0h2m1 0h2m12 0h4m3 0h2m1 0h2m7 0h2m3 0h3m4 0h2m1 0h2m-89 1h4m1 0h7m2 0h14m3 0h5m1 0h3m7 0h4m2 0h3m2 0h2m2 0h2m4 0h3m17 0h2m-96 1h2m3 0h2m3 0h3m1 0h4m1 0h2m1 0h4m1 0h2m2 0h8m2 0h2m2 0h2m9 0h2m6 0h2m4 0h4m2 0h2m1 0h2m5 0h6m6 0h2m5 0h2m-103 1h2m6 0h25m2 0h4m1 0h4m2 0h2m4 0h3m2 0h2m25 0h2m5 0h3m5 0h2m-108 1h2m3 0h3m6 0h2m3 0h2m1 0h5m1 0h5m3 0h9m4 0h2m6 0h2m5 0h2m14 0h2m3 0h5m21 0h2m-114 1h2m7 0h2m4 0h2m2 0h3m1 0h8m1 0h10m3 0h3m6 0h2m1 0h2m3 0h2m16 0h2m1 0h4m3 0h2m11 0h2m7 0h2m-104 1h4m3 0h9m3 0h6m1 0h8m1 0h2m3 0h2m1 0h2m35 0h4m4 0h2m1 0h7m1 0h2m1 0h2m1 0h2m-123 1h2m8 0h2m11 0h2m4 0h5m1 0h11m3 0h10m7 0h2m18 0h2m15 0h3m1 0h4m27 0h2m-127 1h2m10 0h3m2 0h10m1 0h6m3 0h6m3 0h2m18 0h2m2 0h3m15 0h2m1 0h2m15 0h3m-114 1h2m4 0h4m4 0h2m2 0h4m3 0h10m1 0h5m8 0h3m7 0h2m17 0h2m6 0h2m11 0h2m1 0h2m5 0h2m-121 1h2m7 0h4m8 0h10m3 0h8m1 0h2m4 0h5m18 0h2m3 0h2m7 0h2m11 0h2m1 0h4m1 0h2m11 0h2m-108 1h2m3 0h3m3 0h2m1 0h4m3 0h7m4 0h10m7 0h2m21 0h2m4 0h5m3 0h2m2 0h2m-104 1h2m10 0h2m4 0h2m4 0h5m1 0h5m1 0h8m1 0h4m4 0h3m25 0h2m1 0h2m1 0h2m4 0h2m1 0h4m1 0h2m1 0h2m17 0h3m-122 1h2m4 0h2m6 0h7m2 0h10m1 0h2m2 0h9m8 0h2m6 0h2m12 0h2m8 0h2m1 0h2m1 0h2m7 0h2m2 0h2m12 0h2m-130 1h2m12 0h11m3 0h6m1 0h14m1 0h8m13 0h2m17 0h2m8 0h6m-94 1h2m4 0h2m2 0h6m1 0h2m1 0h9m4 0h6m2 0h3m6 0h2m5 0h2m5 0h2m5 0h2m17 0h2m3 0h4m1 0h2m1 0h2m7 0h2m-105 1h2m8 0h9m1 0h8m1 0h3m2 0h3m2 0h4m1 0h2m14 0h2m2 0h2m2 0h4m3 0h2m1 0h2m2 0h3m2 0h2m18 0h2m-126 1h2m1 0h2m6 0h3m2 0h3m6 0h4m1 0h3m3 0h11m1 0h4m7 0h2m17 0h2m21 0h6m1 0h3m7 0h2m-106 1h5m5 0h6m5 0h3m3 0h2m5 0h3m1 0h2m4 0h2m3 0h3m32 0h2m6 0h2m3 0h2m1 0h4m5 0h2m-125 1h2m9 0h2m3 0h4m6 0h3m2 0h6m1 0h6m2 0h4m1 0h2m14 0h2m1 0h2m19 0h2m1 0h2m7 0h2m1 0h2m-92 1h4m2 0h3m1 0h14m1 0h10m38 0h2m-87 1h2m5 0h2m3 0h2m3 0h2m3 0h2m1 0h10m1 0h2m1 0h7m7 0h2m16 0h2m6 0h2m13 0h2m4 0h2m-100 1h2m11 0h7m2 0h12m4 0h2m1 0h2m6 0h2m2 0h2m4 0h2m5 0h2m8 0h2m3 0h4m2 0h2m11 0h2m5 0h3m5 0h2m-109 1h4m4 0h2m2 0h6m2 0h17m3 0h2m13 0h3m9 0h2m4 0h2m2 0h6m3 0h2m11 0h2m-107 1h2m7 0h2m2 0h4m1 0h6m1 0h7m3 0h3m1 0h2m1 0h2m2 0h2m20 0h2m6 0h2m37 0h2m-119 1h2m7 0h2m9 0h11m2 0h7m5 0h6m35 0h2m6 0h2m3 0h3m10 0h2m-102 1h2m1 0h4m3 0h8m5 0h6m1 0h3m4 0h2m6 0h3m6 0h2m2 0h2m4 0h2m17 0h2m2 0h2m-99 1h2m6 0h2m1 0h3m5 0h3m2 0h2m1 0h4m2 0h2m2 0h5m34 0h2m3 0h2m5 0h2m9 0h2m-119 1h2m22 0h2m2 0h3m1 0h3m3 0h2m2 0h7m3 0h2m3 0h4m15 0h2m4 0h2m17 0h2m1 0h2m8 0h3m9 0h2m2 0h4m-129 1h2m15 0h3m3 0h3m1 0h23m2 0h2m2 0h2m4 0h2m3 0h2m1 0h3m15 0h2m4 0h2m3 0h4m6 0h2m7 0h2m-114 1h2m8 0h2m7 0h14m4 0h2m1 0h2m1 0h2m1 0h9m1 0h2m8 0h2m30 0h2m-96 1h2m8 0h5m4 0h5m3 0h2m2 0h2m1 0h2m2 0h2m1 0h2m12 0h2m33 0h2m1 0h2m10 0h2m7 0h2m-137 1h2m9 0h2m9 0h2m9 0h2m1 0h5m5 0h12m4 0h2m19 0h2m24 0h2m2 0h2m-100 1h2m12 0h5m5 0h3m1 0h2m3 0h5m2 0h2m4 0h3m2 0h2m1 0h3m2 0h2m25 0h2m11 0h2m9 0h2m-107 1h2m5 0h2m5 0h7m3 0h3m1 0h17m3 0h2m7 0h2m3 0h2m10 0h3m12 0h2m9 0h2m-101 1h4m2 0h2m2 0h2m7 0h4m1 0h2m3 0h2m2 0h2m1 0h4m3 0h2m5 0h4m4 0h2m16 0h3m12 0h2m-96 1h2m3 0h4m3 0h4m2 0h3m1 0h2m3 0h2m1 0h12m1 0h3m1 0h2m6 0h2m2 0h2m36 0h5m8 0h4m-100 1h2m2 0h6m2 0h11m1 0h3m3 0h2m1 0h2m5 0h2m32 0h2m-82 1h2m10 0h9m1 0h4m1 0h5m1 0h2m2 0h4m13 0h2m25 0h2m5 0h2m9 0h2m8 0h2m-103 1h16m1 0h2m3 0h2m1 0h3m4 0h2m2 0h2m5 0h2m29 0h2m3 0h2m-106 1h2m10 0h2m2 0h2m1 0h2m1 0h4m3 0h5m1 0h4m2 0h6m4 0h5m6 0h2m30 0h2m-94 1h2m15 0h2m8 0h2m1 0h3m2 0h4m3 0h7m19 0h2m30 0h2m22 0h2m-124 1h2m8 0h2m3 0h2m2 0h2m1 0h5m1 0h5m6 0h4m49 0h2m15 0h2m4 0h2m-99 1h2m3 0h7m1 0h9m1 0h5m4 0h2m7 0h2m2 0h3m31 0h2m-89 1h2m2 0h2m2 0h2m3 0h17m2 0h2m8 0h3m6 0h2m38 0h2m9 0h4m-118 1h2m10 0h3m1 0h2m2 0h4m1 0h7m1 0h16m2 0h3m1 0h3m50 0h2m13 0h2m-109 1h3m2 0h2m2 0h4m1 0h3m2 0h7m4 0h2m1 0h2m14 0h2m1 0h3m28 0h2m-96 1h2m8 0h2m3 0h10m3 0h4m4 0h2m3 0h2m6 0h2m1 0h2m38 0h2m7 0h2m25 0h2m-165 1h2m28 0h2m7 0h2m4 0h4m2 0h7m4 0h2m1 0h8m1 0h2m1 0h6m7 0h2m42 0h2m-132 1h2m34 0h4m2 0h2m1 0h4m3 0h3m1 0h8m3 0h5m1 0h3m5 0h2m11 0h2m28 0h2m15 0h2m4 0h2m-111 1h4m5 0h2m1 0h7m1 0h5m1 0h3m2 0h3m3 0h2m5 0h2m1 0h2m6 0h2m34 0h2m-94 1h5m3 0h5m1 0h7m1 0h3m2 0h5m3 0h6m1 0h2m1 0h2m4 0h2m1 0h2m49 0h3m-118 1h2m9 0h2m4 0h3m1 0h8m1 0h11m3 0h2m1 0h2m2 0h4m7 0h2m18 0h2m26 0h2m-116 1h2m12 0h2m2 0h5m2 0h12m1 0h5m1 0h4m1 0h3m2 0h2m6 0h2m2 0h2m-81 1h2m22 0h2m6 0h4m1 0h11m1 0h10m2 0h3m1 0h9m3 0h2m9 0h2m-75 1h2m1 0h2m7 0h2m2 0h2m3 0h9m1 0h14m1 0h4m2 0h2m6 0h2m1 0h2m2 0h2m23 0h2m-140 1h2m50 0h2m7 0h6m2 0h3m1 0h2m2 0h16m2 0h2m1 0h5m28 0h2m48 0h2m-135 1h2m2 0h2m7 0h8m2 0h16m1 0h5m5 0h2m3 0h2m3 0h2m30 0h2m-120 1h2m2 0h2m18 0h2m1 0h2m9 0h4m1 0h14m1 0h14m2 0h7m2 0h2m3 0h2m59 0h2m-111 1h4m1 0h3m1 0h24m3 0h2m25 0h2m32 0h2m-108 1h2m9 0h24m2 0h5m-34 1h2m1 0h3m2 0h21m1 0h3m2 0h6m-44 1h2m2 0h33m8 0h2m26 0h2m28 0h2m-110 1h2m1 0h3m4 0h36m1 0h2m17 0h2m16 0h2m-114 1h2m22 0h3m6 0h3m2 0h8m2 0h25m8 0h5m14 0h2m46 0h2m-145 1h2m1 0h2m18 0h2m2 0h2m1 0h4m1 0h3m1 0h21m2 0h7m4 0h2m10 0h2m4 0h2m13 0h3m-116 1h2m1 0h2m20 0h2m1 0h2m4 0h2m5 0h2m1 0h3m2 0h18m1 0h2m3 0h2m7 0h2m21 0h2m20 0h2m-134 1h2m22 0h2m7 0h2m7 0h2m2 0h10m1 0h23m-53 1h2m14 0h2m1 0h31m3 0h2m1 0h3m4 0h2m18 0h2m-100 1h2m19 0h2m1 0h2m4 0h12m1 0h18m1 0h7m1 0h2m55 0h2m-112 1h2m9 0h2m1 0h16m1 0h16m1 0h10m3 0h2m-54 1h8m1 0h17m2 0h5m1 0h10m1 0h2m1 0h2m3 0h2m-81 1h2m23 0h3m3 0h2m3 0h2m1 0h21m1 0h5m2 0h2m1 0h2m5 0h2m-86 1h2m31 0h4m1 0h7m1 0h26m1 0h4m4 0h2m37 0h2m-128 1h2m15 0h2m11 0h2m3 0h2m1 0h34m1 0h3m1 0h4m2 0h2m1 0h2m6 0h2m-57 1h4m3 0h19m2 0h11m10 0h2m10 0h2m-97 1h2m23 0h2m6 0h2m3 0h2m1 0h32m2 0h2m4 0h2m51 0h2m-103 1h2m4 0h2m2 0h23m1 0h8m1 0h2m12 0h4m-73 1h2m6 0h2m1 0h5m4 0h33m1 0h4m2 0h2m2 0h2m38 0h2m-107 1h4m3 0h2m1 0h2m2 0h2m3 0h2m5 0h31m6 0h2m58 0h2m-114 1h2m3 0h2m1 0h30m1 0h2m24 0h2m11 0h2m-88 1h4m17 0h14m1 0h21m3 0h2m4 0h2m-62 1h2m5 0h10m1 0h2m1 0h24m3 0h6m2 0h2m-78 1h3m20 0h2m5 0h8m1 0h24m3 0h2m4 0h3m-53 1h2m5 0h3m3 0h29m1 0h5m5 0h2m4 0h2m6 0h2m-94 1h2m16 0h2m5 0h6m5 0h10m2 0h12m1 0h7m7 0h5m-105 1h2m42 0h2m5 0h2m1 0h6m1 0h32m2 0h2m2 0h2m5 0h2m-85 1h2m24 0h3m5 0h2m1 0h3m3 0h12m1 0h9m2 0h3m6 0h2m-45 1h3m2 0h2m1 0h9m1 0h16m1 0h2m1 0h2m5 0h2m1 0h2m11 0h2m-81 1h2m4 0h2m1 0h2m5 0h2m1 0h4m4 0h26m4 0h2m4 0h3m-71 1h2m32 0h7m1 0h7m1 0h7m8 0h2m2 0h3m-53 1h2m7 0h4m1 0h27m1 0h3m-64 1h2m11 0h4m4 0h5m1 0h22m1 0h10m1 0h7m37 0h2m-105 1h2m4 0h2m16 0h2m2 0h20m1 0h8m5 0h2m1 0h2m16 0h2m-100 1h2m18 0h3m9 0h3m1 0h4m2 0h5m2 0h16m1 0h4m1 0h3m-55 1h2m9 0h2m8 0h17m2 0h8m2 0h3m10 0h2m-96 1h2m25 0h3m3 0h2m3 0h2m4 0h3m2 0h2m4 0h7m1 0h2m2 0h2m2 0h14m5 0h2m6 0h2m2 0h2m9 0h2m-82 1h2m3 0h2m3 0h2m4 0h14m2 0h5m1 0h6m1 0h4m1 0h2m10 0h2m9 0h2m20 0h2m-98 1h2m10 0h3m2 0h8m1 0h3m1 0h6m1 0h12m2 0h2m3 0h2m2 0h4m9 0h2m-73 1h5m1 0h2m9 0h3m8 0h7m4 0h5m2 0h2m2 0h2m3 0h2m4 0h2m4 0h2m26 0h2m-91 1h2m7 0h2m1 0h2m4 0h2m2 0h19m1 0h3m2 0h2m1 0h2m21 0h2m8 0h2m-100 1h2m1 0h4m6 0h2m11 0h2m1 0h4m1 0h2m1 0h3m1 0h8m1 0h7m1 0h2m1 0h4m10 0h2m-111 1h2m32 0h2m15 0h2m5 0h5m5 0h24m3 0h2m2 0h2m3 0h2m16 0h2m-91 1h2m17 0h3m3 0h4m2 0h11m3 0h2m1 0h3m1 0h7m1 0h2m10 0h2m-72 1h2m14 0h2m5 0h5m1 0h2m3 0h4m1 0h20m1 0h2m1 0h2m2 0h2m52 0h2m-130 1h2m4 0h2m5 0h2m8 0h4m6 0h5m8 0h10m2 0h10m1 0h2m2 0h9m11 0h2m-99 1h2m9 0h2m26 0h2m6 0h4m2 0h4m1 0h5m1 0h6m2 0h2m9 0h2m5 0h2m21 0h4m-123 1h2m20 0h2m6 0h4m6 0h7m4 0h4m1 0h5m2 0h9m1 0h2m1 0h2m2 0h2m-55 1h3m9 0h2m4 0h6m1 0h2m3 0h6m1 0h3m18 0h2m2 0h2m-95 1h2m12 0h2m13 0h2m16 0h4m2 0h2m1 0h4m2 0h10m1 0h2m2 0h4m2 0h3m1 0h2m-61 1h2m4 0h3m9 0h2m6 0h2m2 0h2m1 0h3m7 0h4m1 0h3m1 0h2m1 0h2m-57 1h2m1 0h3m19 0h7m1 0h7m1 0h6m2 0h4m11 0h2m-76 1h2m10 0h2m8 0h2m3 0h6m4 0h3m2 0h7m1 0h8m2 0h4m6 0h2m4 0h2m-83 1h2m7 0h2m7 0h2m2 0h3m8 0h4m2 0h2m2 0h11m2 0h2m1 0h3m1 0h2m1 0h4m6 0h2m-61 1h2m5 0h2m14 0h2m1 0h6m1 0h8m4 0h7m6 0h2m5 0h2m25 0h2m10 0h2m-97 1h2m6 0h2m5 0h2m1 0h6m1 0h3m4 0h2m4 0h5m9 0h2m29 0h2m-126 1h2m48 0h3m2 0h5m2 0h5m2 0h5m3 0h6m-75 1h2m8 0h2m24 0h4m2 0h2m2 0h2m1 0h14m1 0h4m1 0h2m3 0h2m1 0h2m2 0h4m-58 1h2m5 0h2m4 0h3m2 0h2m3 0h6m1 0h14m9 0h2m2 0h2m-65 1h2m18 0h5m2 0h9m1 0h2m1 0h2m7 0h2m1 0h2m-43 1h2m1 0h2m1 0h6m1 0h4m1 0h2m4 0h3m1 0h5m1 0h2m1 0h2m-51 1h2m11 0h2m2 0h2m5 0h2m1 0h2m6 0h8m3 0h3m5 0h4m-50 1h2m5 0h2m2 0h3m1 0h2m3 0h3m2 0h2m2 0h6m1 0h2m1 0h2m4 0h2m3 0h2m9 0h2m4 0h2m-75 1h2m11 0h3m2 0h2m3 0h2m1 0h2m2 0h2m2 0h2m2 0h8m1 0h2m1 0h2m2 0h2m4 0h3m-60 1h2m10 0h2m2 0h2m1 0h4m1 0h2m4 0h2m1 0h5m4 0h2m2 0h2m1 0h2m-73 1h2m4 0h2m4 0h2m15 0h2m15 0h2m2 0h10m4 0h4m1 0h2m4 0h2m-50 1h2m3 0h2m3 0h2m3 0h2m4 0h5m1 0h2m6 0h2m3 0h2m5 0h6m8 0h2m-67 1h2m6 0h3m5 0h4m1 0h2m2 0h9m1 0h5m5 0h2m5 0h2m7 0h2m-44 1h4m1 0h2m1 0h2m1 0h11m3 0h2m2 0h2m2 0h2m9 0h2m3 0h2m8 0h2m-76 1h2m1 0h2m6 0h5m2 0h2m2 0h2m3 0h11m2 0h3m4 0h2m14 0h2m-67 1h2m6 0h2m3 0h4m1 0h2m5 0h2m1 0h4m1 0h2m7 0h4m-61 1h2m7 0h2m2 0h2m10 0h2m1 0h2m7 0h2m2 0h2m2 0h6m2 0h5m1 0h2m1 0h2m-53 1h2m5 0h2m10 0h7m5 0h4m3 0h2m3 0h3m3 0h3m-33 1h3m6 0h2m1 0h4m7 0h2m2 0h3m1 0h2m-64 1h2m3 0h2m29 0h2m9 0h2m1 0h4m1 0h6m14 0h4m-109 1h2m59 0h6m1 0h4m8 0h2m3 0h2m4 0h6m-86 1h2m40 0h2m2 0h3m9 0h4m7 0h2m3 0h3m1 0h4m13 0h2m12 0h2m-60 1h2m1 0h2m4 0h5m2 0h2m3 0h2m-44 1h2m16 0h2m13 0h2m1 0h2m2 0h2m4 0h3m10 0h3m-77 1h2m24 0h2m7 0h2m3 0h4m5 0h2m1 0h4m2 0h2m1 0h2m2 0h4m-63 1h2m6 0h2m3 0h2m11 0h2m1 0h2m1 0h4m5 0h4m1 0h4m5 0h2m1 0h4m2 0h2m3 0h2m-46 1h2m12 0h5m4 0h2m1 0h4m1 0h2m2 0h2m6 0h2m11 0h2m-65 1h6m7 0h4m4 0h2m6 0h2m11 0h4m-37 1h2m3 0h3m5 0h4m1 0h4m2 0h4m3 0h2m1 0h2m1 0h2m-54 1h2m7 0h2m9 0h2m1 0h2m-26 1h4m20 0h4m10 0h2m2 0h2m4 0h2m1 0h2m8 0h2m-53 1h2m8 0h2m2 0h4m9 0h5m6 0h2m4 0h2m-35 1h4m6 0h2m4 0h2m11 0h2m5 0h3m-99 1h2m27 0h2m6 0h2m2 0h5m1 0h13m1 0h28m4 0h2m2 0h7m2 0h2" fill="none" stroke="#000" stroke-width="2"/>
<rect x="1207.7" y="257.1" width="3.2" height="409" fill="#0000ff"/>
<rect x="973.7" y="253.8" width="2.8" height="415.3" fill="#000"/>
<rect x="1390" y="253.8" width="2.8" height="415.3" fill="#000"/>
<rect x="973.7" y="253.8" width="419.1" height="3.3" fill="#000"/>
<rect x="973.7" y="666.1" width="419.1" height="3" fill="#000"/>
<rect x="1058.3" y="663.3" width="334.5" height="5.8" fill="#000"/>
<rect x="973.7" y="663.3" width="5.9" height="5.8" fill="#000"/>
<rect x="979.6" y="628" width="78.7" height="38.1" fill="#fff"/>
<rect x="976.5" y="497.6" width="413.5" height="3.4" fill="#0000ff"/>
<rect x="976.4" y="556" width="2.6" height="2.6" fill="#000"/>
<rect x="963.9" y="296.85" width="10.3" height="2.9" fill="#000"/>
<rect x="963.9" y="389.25" width="10.3" height="2.9" fill="#000"/>
<rect x="963.9" y="484.75" width="10.3" height="2.9" fill="#000"/>
<rect x="963.9" y="583.85" width="10.3" height="2.9" fill="#000"/>
<rect x="963.9" y="656.15" width="10.3" height="2.9" fill="#000"/>
<rect x="967" y="323.05" width="7.2" height="2.7" fill="#000"/>
<rect x="967" y="415.45" width="7.2" height="2.7" fill="#000"/>
<rect x="967" y="514.75" width="7.2" height="2.7" fill="#000"/>
<rect x="967" y="600.25" width="7.2" height="2.7" fill="#000"/>
<rect x="967" y="639.95" width="7.2" height="2.7" fill="#000"/>
<rect x="970.1" y="270.45" width="4.1" height="2.7" fill="#000"/>
<rect x="970.1" y="317.05" width="4.1" height="2.7" fill="#000"/>
<rect x="970.1" y="333.35" width="4.1" height="2.7" fill="#000"/>
<rect x="970.1" y="343.15" width="4.1" height="2.7" fill="#000"/>
<rect x="970.1" y="359.65" width="4.1" height="2.7" fill="#000"/>
<rect x="970.1" y="402.05" width="4.1" height="2.7" fill="#000"/>
<rect x="970.1" y="408.95" width="4.1" height="2.7" fill="#000"/>
<rect x="970.1" y="425.45" width="4.1" height="2.7" fill="#000"/>
<rect x="970.1" y="438.65" width="4.1" height="2.7" fill="#000"/>
<rect x="970.1" y="455.15" width="4.1" height="2.7" fill="#000"/>
<rect x="970.1" y="498.05" width="4.1" height="2.7" fill="#000"/>
<rect x="970.1" y="504.75" width="4.1" height="2.7" fill="#000"/>
<rect x="970.1" y="524.55" width="4.1" height="2.7" fill="#000"/>
<rect x="970.1" y="537.55" width="4.1" height="2.7" fill="#000"/>
<rect x="970.1" y="554.25" width="4.1" height="2.7" fill="#000"/>
<rect x="970.1" y="630.05" width="4.1" height="2.7" fill="#000"/>
<rect x="970.1" y="300" width="4.1" height="3.6" fill="#000"/>
<rect x="970.1" y="307.4" width="4.1" height="5.3" fill="#000"/>
<rect x="970.1" y="391" width="4.1" height="7.1" fill="#000"/>
<rect x="970.1" y="486.5" width="4.1" height="7.3" fill="#000"/>
<rect x="970.1" y="586.5" width="4.1" height="3.5" fill="#000"/>
<rect x="970.1" y="593.5" width="4.1" height="15.9" fill="#000"/>
<rect x="970.1" y="636.2" width="4.1" height="21.1" fill="#000"/>
<rect x="963.9" y="620" width="10.3" height="6.2" fill="#000"/>
<rect x="980.05" y="668.6" width="2.9" height="10.1" fill="#000"/>
<rect x="1057.85" y="668.6" width="2.9" height="10.1" fill="#000"/>
<rect x="1158.65" y="668.6" width="2.9" height="10.1" fill="#000"/>
<rect x="1253.15" y="668.6" width="2.9" height="10.1" fill="#000"/>
<rect x="1347.55" y="668.6" width="2.9" height="10.1" fill="#000"/>
<rect x="1015.9" y="668.6" width="6.1" height="10.1" fill="#000"/>
<rect x="999.45" y="668.6" width="2.7" height="6.8" fill="#000"/>
<rect x="1038.35" y="668.6" width="2.7" height="6.8" fill="#000"/>
<rect x="1126.45" y="668.6" width="2.7" height="6.8" fill="#000"/>
<rect x="1227.15" y="668.6" width="2.7" height="6.8" fill="#000"/>
<rect x="1321.55" y="668.6" width="2.7" height="6.8" fill="#000"/>
<rect x="1084.15" y="668.6" width="2.7" height="3.9" fill="#000"/>
<rect x="1103.65" y="668.6" width="2.7" height="3.9" fill="#000"/>
<rect x="1116.55" y="668.6" width="2.7" height="3.9" fill="#000"/>
<rect x="1136.15" y="668.6" width="2.7" height="3.9" fill="#000"/>
<rect x="1141.85" y="668.6" width="2.7" height="3.9" fill="#000"/>
<rect x="1188.15" y="668.6" width="2.7" height="3.9" fill="#000"/>
<rect x="1204.55" y="668.6" width="2.7" height="3.9" fill="#000"/>
<rect x="1217.55" y="668.6" width="2.7" height="3.9" fill="#000"/>
<rect x="1234.05" y="668.6" width="2.7" height="3.9" fill="#000"/>
<rect x="1240.25" y="668.6" width="2.7" height="3.9" fill="#000"/>
<rect x="1282.65" y="668.6" width="2.7" height="3.9" fill="#000"/>
<rect x="1298.95" y="668.6" width="2.7" height="3.9" fill="#000"/>
<rect x="1312.05" y="668.6" width="2.7" height="3.9" fill="#000"/>
<rect x="1328.05" y="668.6" width="2.7" height="3.9" fill="#000"/>
<rect x="1377.05" y="668.6" width="2.7" height="3.9" fill="#000"/>
<rect x="1151.6" y="668.6" width="4.4" height="3.9" fill="#000"/>
<rect x="1247.2" y="668.6" width="5.7" height="3.9" fill="#000"/>
<rect x="1334.9" y="668.6" width="11.1" height="3.9" fill="#000"/>
<rect x="980.1" y="669.1" width="16" height="3.3" fill="#000"/>
<rect x="1002.7" y="669.1" width="9.4" height="3.3" fill="#000"/>
<rect x="1031.9" y="669.1" width="16" height="3.3" fill="#000"/>
<rect x="1051.7" y="669.1" width="8.5" height="3.3" fill="#000"/>
<text transform="translate(955.4,310)" font-size="28.6" text-anchor="end">10<tspan font-size="25.9" dy="-15.4">5</tspan></text>
<text transform="translate(955.4,402.3)" font-size="28.6" text-anchor="end">10<tspan font-size="25.9" dy="-15.4">4</tspan></text>
<text transform="translate(955.4,497.9)" font-size="28.6" text-anchor="end">10<tspan font-size="25.9" dy="-15.4">3</tspan></text>
<text transform="translate(955.4,596.9)" font-size="28.6" text-anchor="end">10<tspan font-size="25.9" dy="-15.4">2</tspan></text>
<text transform="translate(953.8,634.4)" font-size="28.6" text-anchor="end">0</text>
<text transform="translate(1017.3,711.9)" font-size="28.6" text-anchor="middle">0</text>
<text transform="translate(1056.6,711.9)" font-size="28.6" text-anchor="middle">10<tspan font-size="25.9" dy="-13.1">2</tspan></text>
<text transform="translate(1157.2,711.9)" font-size="28.6" text-anchor="middle">10<tspan font-size="25.9" dy="-13.1">3</tspan></text>
<text transform="translate(1254.1,711.9)" font-size="28.6" text-anchor="middle">10<tspan font-size="25.9" dy="-13.1">4</tspan></text>
<text transform="translate(1349.1,711.9)" font-size="28.6" text-anchor="middle">10<tspan font-size="25.9" dy="-13.1">5</tspan></text>
<text transform="translate(980.3,293.6) scale(1,1.04)" font-size="37.9" font-weight="bold" fill="#0000ff">36.4</text>
<text transform="translate(1382.3,293.6) scale(1,1.04)" font-size="37.9" text-anchor="end" font-weight="bold" fill="#0000ff">9.1</text>
<text transform="translate(983.7,659.4) scale(1,1.04)" font-size="37.9" font-weight="bold" fill="#0000ff">53.4</text>
<rect x="68.4" y="1008" width="500.7" height="477.9" fill="#fff" stroke="#000" stroke-width="3.4"/>
<text transform="translate(55.2,1483.8) rotate(-90) scale(1,1.02)" font-size="62.2">CD27 (APC)</text>
<polygon points="33.9,1000.9 57.8,1065.9 48.1,1069.4 39,1045.5 39,1134.1 28.8,1134.1 28.8,1045.5 19.7,1069.4 10,1065.9" fill="#000"/>
<text transform="translate(69.7,1551.3) scale(1,1.02)" font-size="62.2">CD43 (FITC)</text>
<polygon points="567.5,1527.8 502.5,1551.7 499,1542 522.9,1532.9 445.8,1532.9 445.8,1522.7 522.9,1522.7 499,1513.6 502.5,1503.9" fill="#000"/>
<g fill="none" stroke="#000" stroke-width="3.6" stroke-linejoin="round">
<path d="M315.2 1206.2L313.9 1207.1L312.3 1207.5L313.1 1208.3L312.6 1208.7L312.6 1210.8L311.7 1211L311.6 1211.7L311 1212L311 1213.3L309.2 1214.8L308.7 1217.9L307.7 1218.3L306.5 1220.2L305.1 1217.9L303.7 1216.7L303.2 1213.6L302.2 1213.2L300.9 1213.6L301.3 1211.2L300.4 1211L300.6 1209.8L298.2 1208.1L298.9 1207.1L297.8 1206.3L298.3 1204.9L299.3 1204.3L299.3 1202.8L300.8 1202.7L300.8 1200.3L301.6 1199.1L302.5 1199L303.6 1195.5L306.3 1191.3L307.6 1192.7L308.5 1196.2L309.4 1196.8L309.8 1198.6L311.5 1198.6L311.1 1200.8L312.1 1201.5L312.3 1203.5L314.5 1204.4L313.8 1205.4Z"/>
<path d="M316.4 1206.2L316.3 1206.9L315 1207.8L314.6 1209.6L313.5 1210.2L313.8 1212.2L313.2 1213L313 1217.4L311.5 1217.8L310.5 1222.3L306.9 1228.8L306.1 1229.2L300.3 1218.3L300.1 1212.8L299.1 1212.4L299.1 1211L297.8 1210.3L297.6 1208.1L296.2 1207L296.1 1206.1L297.8 1204L297.4 1201.5L299 1201L299.4 1199.6L299 1197.7L300.4 1196.9L303.1 1190.7L305.7 1186.8L306.3 1186.5L307.6 1188.8L311.9 1194.5L312.6 1198L314.8 1201L314.1 1202.3L314.8 1202.8L315 1204.2L316.7 1205.1Z"/>
<path d="M318.3 1206.2L317.1 1210.2L316.2 1211L316.6 1212.4L316.1 1213.2L316.2 1214.9L314.3 1215.5L314.5 1218.8L313.6 1220.4L312.9 1224.2L310 1232L307.6 1236L306.1 1236.7L304.3 1235.5L303.2 1234L300.3 1227.9L299.3 1220.3L298.6 1218.9L298.3 1216.8L297.2 1215.8L296.9 1209.8L295.9 1209L295.1 1206.9L296.2 1205.2L295.4 1203.6L297 1202.5L296.1 1199.5L296.9 1198.7L296.8 1197.2L298 1193.8L298.8 1193L300 1188.4L302.5 1185.2L306.1 1183L309.7 1185L312.7 1188.6L315.5 1196.7L316.4 1201.2L317.9 1202.2L317.1 1204.1Z"/>
<path d="M320.1 1206.2L319.9 1208.3L318.5 1210.6L318.5 1212.1L317.8 1212.9L318 1214.5L317.3 1216.7L317.2 1221.1L315.4 1224.7L314.6 1230.1L311.4 1237.8L307.3 1243.4L306.3 1243.7L303.8 1243L301.5 1240.9L298.3 1232.5L296.7 1225.1L296.6 1220L295.5 1215.9L295.9 1213.6L294.3 1211.5L295 1209.5L294 1208.7L293.5 1207.3L293.4 1204.8L294.2 1203.7L294.6 1200.4L295.7 1199.3L295.3 1196.7L296 1194.3L295.9 1190.9L296.3 1188.4L296.8 1187.8L298.4 1187.4L299.7 1183.7L303.6 1179.7L306.3 1177.9L308.7 1179.1L314.3 1184.3L315.5 1186.5L316.8 1190.6L317.4 1199.1L319.8 1201L319 1204Z"/>
<path d="M321.9 1206.2L322.3 1208.4L321.1 1210.1L321.3 1211.6L320.1 1213.9L319.8 1217.2L318.8 1218.4L318.7 1224.1L317.1 1232L312.1 1244.7L310.7 1247.2L307.5 1250.8L305.9 1251.5L303.2 1251.4L300.4 1248.8L296.5 1238.3L295.5 1228L294.3 1225.1L293.9 1221.8L293.9 1217.1L294.5 1214.3L293.6 1212.9L293.5 1211.7L292.8 1210.9L292.7 1205.7L291.6 1203.7L293.5 1201.5L292.7 1199.2L293.5 1198.1L293.9 1196.1L293.6 1190.5L295.3 1187.4L296.1 1184.2L301.4 1176.8L306.3 1174.9L311.3 1176.8L313.6 1179.2L315.6 1180L318.3 1189.3L319.3 1191.2L320.5 1199.4L320.2 1201.7L321.3 1202.8L321 1204L322.1 1205.2Z"/>
<path d="M323.9 1206.2L324.2 1207.4L321.8 1211.6L322.8 1214.9L321.4 1220.5L320.5 1222.4L320.6 1226.1L319.6 1229.6L319 1235.3L316.5 1245.2L312.5 1253.1L308.2 1258.7L305.9 1260.3L302.5 1260.5L299.1 1257.4L297.1 1251.8L294.9 1241.4L293.9 1232.2L292.7 1228L292.8 1219L291 1215.6L290.6 1213.7L291.3 1211.3L290.6 1209.9L291.1 1208.3L290.4 1206.6L290.4 1205L291.4 1203.2L291.1 1201.9L291.7 1200.5L291.9 1194.5L292.7 1192.2L292.6 1186.1L293.9 1181.2L297.1 1175.8L302.8 1172.4L306 1169.5L309.4 1171.4L313.2 1172.3L317.3 1176.1L319.3 1180.2L320.3 1187.2L322.5 1194.4L321.7 1197.6L323.6 1199.7L323.2 1201.5L323.6 1202.8L323 1205Z"/>
<path d="M325.1 1206.2L325.1 1207.3L323.8 1210L325.3 1212.9L323.4 1216.6L323.7 1222.7L322.1 1224.9L321.9 1234.9L320 1239.9L317.9 1250.7L313.4 1259.9L309 1266.2L306.3 1268.2L304.2 1268.6L302.5 1268.3L299.1 1264.8L297.5 1262.1L295.4 1257.6L292.7 1248.2L290.8 1224.4L289.6 1220.2L290.4 1212.5L289 1209.4L288.8 1207.5L289.5 1205.9L289.1 1203.4L289.9 1201.4L289 1198.1L289.9 1196.1L289.9 1193.5L290.6 1191.5L290.6 1184L292 1177.4L295.5 1172.7L299.2 1169.1L306 1166.3L311.8 1167.4L317.9 1171.5L320.9 1176.3L322.2 1180.4L322.5 1185.1L323.4 1188.8L323.4 1195.9L325.6 1197.8L324.9 1202.4L325.5 1204Z"/>
<path d="M327 1206.2L327 1209.2L326.4 1210.8L326.7 1215.2L324.5 1228.2L323.1 1242.1L319 1257L314.8 1266.5L309.9 1273.5L308.2 1275.1L306.3 1275.8L302.1 1276L298.1 1273.1L296.2 1270.2L293.8 1265L290.8 1253.9L289.3 1240.3L289.3 1228.4L288.1 1224.7L288.8 1217.5L287.8 1214.8L287.8 1211.3L288.4 1209.5L287.4 1208.1L287.6 1206.5L286.8 1204.8L287.5 1202.7L287 1199.7L288.5 1197.4L288.3 1190.7L288.8 1186L288.2 1179.2L288.7 1176.2L290.3 1173.2L295.9 1167.2L300.8 1163.7L306 1161.6L309 1162L318.9 1166.3L320.6 1168.2L324 1176.2L326 1188.1L325.7 1197.1L327.8 1199.4L327.7 1203.7Z"/>
<path d="M328.8 1206.2L328.9 1207.7L327.8 1209.4L327.8 1211.9L328.7 1214.7L326.2 1227.1L326.5 1232.8L325.4 1237.9L324.9 1245.1L322.8 1252.5L320.2 1263.9L315.9 1273.9L310.2 1280.4L307 1282.5L303 1283.5L300.9 1283.4L296.6 1280.3L293.1 1274.1L291.5 1268.2L289.2 1254.6L287.6 1239.9L287.7 1233.3L286.5 1227.1L287.2 1221.4L286.1 1218.5L286 1215.2L286.8 1212.1L286.4 1206.7L287.3 1204.8L285.3 1202.3L286.6 1198.2L285.9 1195.1L287.2 1187L286.6 1179.5L288.8 1170.1L291.8 1165L296.4 1161.4L298.3 1160.4L303.1 1159.6L306.8 1158L315.1 1159.1L318.9 1162.5L321.3 1163.9L325.8 1172.5L326.2 1179.8L328.5 1188.2L328.2 1194.1L329.5 1197.5L329.2 1200L329.6 1202.9L328.8 1204.8Z"/>
<path d="M331.2 1206.2L330.7 1207.9L330.9 1210L330.2 1212.1L330.8 1214.6L329.2 1218.6L330 1222.1L329.6 1225L330 1229L328.2 1233.1L327.9 1238.7L326.6 1246.9L322.6 1268.9L316.8 1280.3L310 1288.9L308.5 1290.1L306.3 1291L301.1 1291.7L295.6 1287.5L292.9 1282.5L290.7 1276.6L287.9 1263L285.6 1240.7L285.9 1229.7L284.4 1218.1L284.9 1214.4L283.8 1210.9L284.8 1207.5L284.2 1200.2L285.1 1195.8L285.3 1187.2L284.7 1182.1L285 1176.3L286.6 1166.5L290.6 1161.6L293.8 1159.5L297.5 1156L305.9 1153.3L313.1 1155L316.7 1155.1L323 1159.2L324.1 1161.1L327.4 1170.4L327.9 1177.6L329.7 1185.1L329.6 1197L330.6 1200.3L330.7 1204Z"/>
<path d="M333.2 1206.2L333.1 1210.2L332.2 1213.1L332.1 1216L332.5 1218.3L331.5 1222.5L331.6 1227.7L330.1 1232.1L330.1 1240.7L328.8 1246.6L327.4 1258.4L323.9 1274.2L317.8 1287.5L310.3 1296.2L308.7 1297.5L305.5 1298.9L301.4 1300.1L299.8 1300L295.2 1296.6L292.7 1292.3L289.3 1283.2L285.9 1267.3L283.3 1235.1L282.6 1230.7L283 1226.8L284 1222.7L282.7 1219L283 1215.4L282.6 1212.3L283.5 1207.5L282.8 1204.9L283.5 1199.6L283 1197.4L283.6 1188.1L283 1184L283.1 1178.5L283.7 1172.6L285.8 1164.1L289.4 1158.2L292.7 1155.1L297.7 1151.8L305.8 1148.7L307.9 1148.6L312.7 1150.4L317.1 1151L324.2 1155.7L329.1 1166L329.4 1170.6L330.5 1174.7L332.1 1187.1L331.8 1192.9L333.3 1199.4Z"/>
<path d="M336.1 1206.2L335.5 1209L334.1 1211.8L334.4 1218.3L333.5 1222.1L333.3 1232.6L329.2 1261.3L327.6 1269.8L325.1 1278.8L320 1292.4L317.5 1296.7L309 1306L302.8 1308.7L300.9 1309.1L299.2 1308.8L293.5 1304L288.9 1295.7L287 1289.9L284.4 1275.8L282 1245.9L281.6 1229.6L282.2 1224L281.3 1220L281.4 1216L280.6 1209.8L281.4 1207.2L280.8 1205L282 1202.1L281.6 1195.6L281.9 1191.7L281.2 1186.1L281.7 1181.9L281.3 1174.7L283.5 1159.3L288.2 1153.5L296.7 1148.3L301.6 1146.1L306.3 1145.2L316 1145.1L318.6 1145.8L321.9 1148.1L325.9 1152.5L330.6 1163.2L331.4 1169.6L333 1176L334.2 1187.7L334 1191.7L335.2 1194.5L334.6 1201.7Z"/>
<path d="M336.9 1206.2L335.3 1210.7L336.2 1214.1L336.1 1223.4L334.9 1229.7L334.5 1240.9L332.6 1249.8L330.9 1270.1L328.5 1278.8L326.5 1284.1L321.8 1293.9L318.6 1299.4L309 1307.7L302.7 1309.8L299.1 1309.8L293.2 1306.1L289.7 1300.5L287 1293.4L283.6 1280.5L282.9 1276.1L282.2 1264.5L280.6 1252.5L280.1 1239.2L280.2 1232.7L279.7 1228.5L279.7 1222.1L280.8 1218.1L279.9 1211.3L279.9 1205L280.3 1203L279.1 1195.4L279.4 1192.1L280.2 1189.2L279.6 1183.8L280.2 1169.5L282.3 1160L288 1151.4L292.2 1149.5L296.8 1146.1L305.8 1142.7L309.7 1142.6L317.9 1143.7L320.5 1145L325.1 1148.4L326.7 1150.2L329.8 1155.9L332.6 1164.1L333.6 1171.9L335.1 1177.4L335.1 1182.9L335.8 1186.6L335.2 1191.8L337.5 1201.5Z"/>
<path d="M338.2 1206.2L339 1212.2L338 1217.1L338 1226.3L337.2 1230.7L337 1235.8L335.8 1241.9L333.9 1265.3L331.9 1274.6L328.1 1287.4L326.6 1290.6L321.8 1298.3L318.2 1302.8L309.1 1310L301.7 1312.3L298.9 1312.5L296.2 1311.1L292.9 1308.4L287.4 1299.5L283.4 1288.8L281.3 1278.8L279.3 1259.3L278.8 1249.4L279.6 1239.2L278.2 1229L279.3 1223.7L278.5 1221L278.9 1217.5L277.5 1211.8L278.3 1209.1L278.1 1206.2L279 1203.8L278.4 1200.7L279.2 1197.9L278.6 1194.6L278.6 1188.1L277.5 1180.2L281.9 1157.2L283.1 1155.2L289.1 1149.7L295.1 1145.3L305.2 1142.4L311.4 1141.8L319.3 1142.7L324.2 1144L327.6 1146.2L329.9 1149.4L331.6 1153.2L335 1165.3L335.4 1172.7L336.9 1178.7L336.1 1186.8L338.1 1192.7L338.4 1194.8L338 1198.6L339.3 1203.3Z"/>
<path d="M340.7 1206.2L340.4 1209.7L340.9 1212.6L340 1217.4L340.6 1222.9L338.1 1229.7L338.7 1236.3L336.6 1252.7L336.2 1271.6L335.3 1277.8L334.1 1282.3L328.2 1293.8L321.7 1303.1L319.4 1305.6L311.8 1310.5L308.2 1312.2L299.7 1314.2L295.1 1312.8L292.5 1311.4L290.1 1308.6L286.7 1302.9L284 1295.9L280.6 1283.2L277.9 1260.8L277.4 1246L276.7 1239.1L277.4 1224.9L276.7 1220L276.6 1215.8L277.4 1212.6L277.1 1198.9L277.8 1194L277 1189.9L276.4 1175.7L278.4 1163.9L281.8 1155.9L286.4 1149.7L290.8 1146.2L299.1 1142.2L302.4 1141.4L313.2 1140.5L324.5 1142.7L327.2 1143.7L329 1145.5L333.3 1152.2L336.5 1161.5L336.8 1174.6L338.1 1179L337.8 1183.7L338.7 1186.7L339 1190.6L340.4 1197L339.5 1202.1Z"/>
<path d="M342.3 1206.2L342.2 1208L343 1212L342.1 1215.7L342.6 1220.8L341.2 1226.3L342.2 1235.2L340.2 1240L339.6 1243.1L338 1264.5L337.9 1277L336 1287.7L329.5 1299.2L319.7 1307.4L311 1313.3L308.2 1314.7L301.5 1316.3L299.6 1316.3L297.7 1315.8L293.2 1313.4L291.5 1312.1L286.9 1306L285 1302.3L279.4 1286.5L276 1265.7L275.4 1247.2L276.5 1237.1L275.3 1230.4L276 1221.3L275.1 1218.8L276.1 1214.3L275.9 1210.7L274.7 1206.2L275.4 1203.4L275.8 1195.9L274.8 1191.5L275.7 1183.5L275.3 1177.7L276.2 1172.7L276.4 1166.4L277.1 1163.7L278.7 1161L280.9 1155L286.5 1148.4L295.8 1142.9L302.3 1140.1L306.3 1138.8L317.2 1137.9L320.1 1138.4L328.4 1142.1L333.3 1146.9L334.8 1149L338.1 1161.7L339.7 1181L341.1 1185.2L340.9 1189.6L342.7 1203.6Z"/>
<path d="M344.4 1206.2L344.8 1218.3L343.7 1222L344 1230.6L342.9 1236.2L342.7 1242.5L341.4 1250.2L340.2 1265.9L339.8 1277.9L337.5 1289.5L335.7 1294L332.5 1300.6L330.6 1303.4L321 1310.4L310.2 1315.8L301.4 1318.3L298.5 1318.6L292.7 1316.9L290.1 1315.1L285.4 1309.2L279.7 1296.1L277.7 1289.5L276.5 1278.3L274.4 1267.6L274.3 1256.5L273.6 1248.9L274.3 1241.1L273.9 1233.9L274.2 1228.2L273.5 1223.2L274.6 1212.9L273.7 1209.6L273.9 1206.4L273.3 1203.3L273.8 1198.6L274.9 1195.9L273.2 1185.9L274.2 1172.8L276.7 1160.5L280.9 1153.9L288.9 1145.5L292.8 1142.5L297.1 1140.1L304 1139L310.6 1136.3L313.8 1135.6L319.9 1136.5L328.7 1139.4L332.6 1142.8L335.6 1146.3L338.8 1158L340.5 1168.9L341.3 1181.2L342.5 1184.9L342.2 1189.8L343.4 1193L343 1196.3L343.2 1202.9Z"/>
<path d="M347.5 1206.2L347.7 1208L346.4 1213.2L345 1229.4L345 1235.3L342.6 1254.2L342 1271.9L342.2 1284.9L340.9 1293.8L339.7 1297.8L331.6 1307.5L318.8 1315L309.3 1318.6L301.4 1320.5L298.4 1320.3L291.6 1318.1L287.2 1314.8L284.1 1311L277.3 1295.5L276.1 1291.4L275 1281.8L272.8 1270.6L272.1 1255L272.9 1238.4L272.2 1233.3L273.4 1219.8L272.6 1216.8L272.8 1213.6L271.7 1210.4L272.6 1200.8L272.2 1197L272.4 1191.8L273.1 1188.5L272 1175.8L272.5 1170.5L275.1 1159.8L280.3 1151.6L285.5 1145.5L289.4 1142.7L299.2 1138L302.7 1136.9L307.6 1136.4L313.2 1135L318.2 1135.6L324 1135.5L328.9 1136.8L336.4 1143.2L337.8 1145.7L340.1 1156.1L342.2 1173.9L343.7 1178.5L343 1185L345.9 1189.8L345.1 1194.3L345.1 1197.2L346.4 1201.2L346.6 1204Z"/>
<path d="M348.8 1206.2L349.3 1209.9L348.7 1214L349 1217.6L348.2 1221L347.6 1230L345.9 1242.4L345.2 1254.1L343.6 1265.8L343.9 1290.6L342.9 1298.9L341.7 1303.3L339 1306.6L332.7 1311.9L320.7 1315.5L312.3 1319.1L299.2 1322.8L295.2 1322.1L290.3 1320.4L285.7 1317.3L283.3 1314.6L280.5 1309.8L275.9 1299.7L274.8 1295.3L273.8 1284.8L271.1 1273.8L270.6 1248.8L270.9 1242.2L270.6 1236.7L270.9 1221.9L270.3 1216.8L271.4 1212.6L270.5 1209.6L271.3 1206.2L270 1202.3L271.1 1199L271.3 1195.1L270 1189.2L269.8 1185.5L271 1177.5L270.9 1170L273.8 1157L275.8 1154.3L281 1150.5L287.3 1143.9L293.6 1140.5L299 1136.2L305.7 1135.3L314.7 1133.1L323.7 1134L328.4 1134L330.3 1134.7L338.7 1141.3L341.8 1152.5L343 1160.9L343.6 1170.2L345.1 1175.9L345.6 1181.1L346.7 1185.6L346.8 1191L348 1195.4L347.4 1200.7Z"/>
<path d="M362.5 1206.2L362 1211L362.1 1215.5L361.1 1219.3L360.6 1223.8L358.8 1229.5L354.3 1236.1L353.1 1246.8L353.9 1257.2L357.6 1268.3L357.7 1273.1L357 1275.9L353.1 1284L349 1299.8L346.2 1304.8L343.5 1308.3L333.6 1315.5L317.5 1321.5L308.4 1323L300.1 1325.2L296 1324.4L289.1 1321.5L285.5 1318.8L283 1315.9L275.4 1298.5L274.4 1294L273.3 1284L270.9 1272.8L270.6 1262.3L271.1 1251.2L270 1231.6L270.7 1225.5L270.8 1218L270.5 1212.5L269.7 1209L271.5 1199.7L270.4 1194.5L271.3 1187.9L270.1 1174L270.6 1169.2L273.5 1158.3L274.5 1156.1L278 1151.7L285.2 1146.6L290.6 1140.7L298.3 1135.8L307.6 1134.3L313.4 1132.5L325.3 1132.7L329.2 1133.6L333.1 1136.6L338.6 1140L341.8 1146L343.7 1150.8L345.4 1157.9L348.1 1164.4L351.5 1179.5L355.5 1189.7L356.6 1193.6L359.8 1198.6Z"/>
<path d="M374.6 1206.2L375.3 1209.2L374.3 1220L372.2 1225.7L369.2 1231.6L362.5 1241.3L360.2 1253.8L360.3 1259.1L361.1 1264.9L369 1282.1L369.7 1285.8L368.5 1291.6L362.2 1301L353.5 1309.5L346.6 1313.9L336.4 1318.2L327.5 1320.4L317.7 1324L300 1326.5L290.9 1323.7L286.1 1320.7L283.5 1318.2L282 1315.8L274.9 1300.2L274.1 1297.2L272.9 1287L270 1274.5L270.2 1240.4L271.1 1233.7L269.5 1230.1L269.3 1228.4L270.2 1223.4L270.4 1218.5L269.8 1206.2L271.2 1200.3L270.1 1190L270.2 1186.1L269.5 1179.4L270.4 1170.2L271.9 1165.1L272.7 1158.9L273.6 1156.7L275.9 1154.5L279 1150.1L287 1142.9L298.8 1134.6L307 1132.7L312.8 1132.4L330 1133.3L333.9 1134.3L339.4 1138.3L343.1 1142.5L345 1145.5L346.9 1149.3L352 1163.6L354.7 1168.4L359 1179.3L363.5 1188.1L368.2 1193L370.3 1196Z"/>
<path d="M388.3 1206.2L388.8 1208.3L388.6 1217L384.6 1231.6L382.6 1235.4L381.2 1237.2L370.6 1245.5L366.3 1259.2L368.4 1272.7L370.4 1277.3L378.5 1292.2L381.2 1298.6L381.6 1300.7L381.3 1303.9L380.7 1306.7L379.6 1308.9L373.7 1313.9L369.8 1316.1L348.1 1320.8L334.2 1322.1L319 1326.6L308.5 1328.3L302.1 1328.7L298.9 1328.3L289.7 1324.4L284.1 1320.6L281.8 1316.8L274.4 1298.8L272.6 1285.6L270.2 1275.7L269.8 1272L269.9 1258.3L269.3 1249.6L270.4 1239.7L269.4 1228.8L270.6 1219.2L270.7 1211.8L269.3 1203.2L269.6 1198L269.1 1192.9L270.1 1171.8L271.7 1161.8L272.6 1158.9L278.2 1150.9L288.9 1141.2L298.3 1135.3L306.3 1133.1L312.8 1132.2L319.4 1132.1L329.2 1131.3L333.3 1132L344.7 1139.7L349.8 1145.2L356.6 1157.6L359.1 1163.5L367.4 1178.3L373.1 1186.4L384.7 1197.9L386.5 1201.2Z"/>
<path d="M420.1 1206.2L416.8 1211L411.4 1217.2L409.7 1219.8L406.8 1226.6L402.6 1234.7L401.2 1239.7L397.3 1249.5L394.1 1252.8L386.7 1258.4L385.9 1259.8L388.1 1263.4L393.3 1269.3L395.8 1273.6L395.9 1276.1L393.7 1282.1L393.5 1284.7L395.1 1288.9L401 1299.2L401.9 1301.7L401.7 1304.9L400.8 1307.4L398.5 1310.3L395 1313.7L391.7 1315.4L370.9 1322.6L334.1 1326.3L322.4 1328.4L312.9 1331.5L308.5 1332.2L301.9 1332.2L298.7 1331.5L283.7 1322.5L282 1320.8L272.9 1300.7L271.9 1295.8L271 1285.5L268.5 1273.1L268.8 1237.7L268 1231L268.7 1226.6L269 1215.8L267.8 1211.2L267.6 1207.2L268.7 1201.5L268.1 1198L268 1191.8L268.7 1186.1L267.6 1178.5L268.5 1168.9L270.5 1162.7L271.6 1155.6L275.5 1150.5L279.9 1146.8L285.5 1140.1L299.3 1132.8L311.7 1129.7L318.6 1129L329.6 1130L337.2 1129.8L345.3 1134.3L352.6 1137.5L354.2 1137.7L357.8 1136.7L370.6 1130.9L375.4 1130.8L380.1 1132.4L381.4 1132.4L383.6 1131.5L396 1124L398.9 1122.8L402.8 1122.3L406.8 1123.3L412.1 1126.5L415.1 1130L428.2 1151.9L431.9 1160.4L433.6 1167.3L433.5 1172.1L431.8 1178.3Z"/>
<path d="M432.9 1206.2L428 1213.6L421.6 1219.3L419.6 1222.1L412.2 1236.5L410.5 1243L405.8 1252.6L398.4 1261.4L394.8 1264.7L394.7 1265.7L396.1 1267.8L410.8 1282L414.6 1286.2L416.6 1289.2L417.4 1291.4L417.6 1294.6L416.9 1298.9L413.8 1306.3L410.8 1310.6L404.1 1316.7L398.5 1319.9L388.5 1321.3L372.8 1326.1L348 1327.1L336.5 1326.9L333.3 1327.6L328.2 1330.3L326.1 1330.9L318.4 1331.4L311.9 1332.8L306.3 1333.2L301.9 1333.3L298.6 1332.7L285.2 1325.9L283.3 1324.7L281.5 1322.8L273.9 1306.2L271.9 1300.7L270.5 1284.8L267.6 1273.3L267.2 1260L267.9 1241.4L267.2 1232.5L268.1 1224L267 1219.7L268.1 1215.3L267.3 1200L268.2 1192.3L267.6 1182L268 1176.7L266.9 1169.3L268.9 1161.5L274.6 1150.1L288.5 1137.3L297.2 1131.5L304.4 1130.1L312.5 1127.6L323.9 1126.8L331.7 1128.1L338.5 1128.5L345.3 1131.4L346.8 1131.7L357.4 1130.4L361.6 1128.6L381.3 1115.3L386.6 1112.2L392.8 1110.1L398.4 1109.2L402.6 1109.9L406.4 1111.2L412 1115.9L419.6 1125.3L424.7 1135L431.6 1146.4L441.2 1166.2L441 1170.1L437.5 1181.8L436.5 1190.2Z"/>
<path d="M419.3 1162.2L419.8 1164.3L418.8 1165.6L418.8 1168.5L416.6 1168.9L416.4 1170.4L414.7 1171.7L414.4 1174L410.6 1174.2L407.8 1175.4L406.8 1174.9L405.7 1176.1L405.1 1176.2L402.5 1174L401.6 1172.8L401.4 1171.1L399.7 1171.1L399.3 1169.3L398.4 1168.9L396.9 1167.2L397 1166.2L396.3 1165.3L396.6 1164.2L395.7 1162.8L395.8 1161.8L394.8 1160.8L395.1 1159.6L393.4 1157.4L394.5 1153L395.8 1151.9L395.9 1148.7L397.6 1147.3L399.6 1147L404.2 1145.3L406.1 1145.7L407.9 1144.3L411.8 1150.4L413.6 1150.8L414.7 1151.6L415.2 1153.5L417.2 1153.7L416.9 1157.2L418.6 1159.4Z"/>
<path d="M427.4 1162.2L425.7 1166.9L424.7 1174.8L421.9 1177.4L419.3 1178.6L416.5 1181.9L414.8 1182.8L413.3 1184.4L409.3 1183.8L406.9 1182.4L402.3 1183.6L400.3 1181.8L396.4 1180.9L395.4 1178.7L393.3 1177.8L392.2 1176L387.6 1173.4L386.9 1171.9L386.7 1169.9L385.7 1168L385.6 1165L384.7 1162.8L385.2 1161.1L384.2 1159.2L384.4 1157.5L383.7 1155.2L385 1152.5L386.5 1150.8L387.2 1146.4L388.6 1144.7L389.2 1142L390.4 1140.2L393.3 1138.9L395.2 1137L398.3 1136.4L400.6 1134.9L405.4 1133.2L410 1135L414.7 1138.4L416.1 1140L418.6 1141.1L421.8 1145.7L422.8 1150.7L424.5 1152.1L424.9 1154.5L427.2 1158.2L427.6 1159.8Z"/>
</g>
<rect x="410" y="1162.8" width="2.6" height="2.6" fill="#000"/>
<rect x="289.6" y="1019" width="3.2" height="407.9" fill="#0000ff"/>
<rect x="147.2" y="1314.9" width="414.3" height="3.2" fill="#0000ff"/>
<rect x="144.3" y="1016" width="2.9" height="414" fill="#000"/>
<rect x="561.2" y="1016" width="2.9" height="414" fill="#000"/>
<rect x="144.3" y="1016" width="345.5" height="3.3" fill="#000"/>
<rect x="557.6" y="1016" width="6.5" height="3.3" fill="#000"/>
<rect x="144.3" y="1427" width="9.6" height="3" fill="#000"/>
<rect x="176.9" y="1427" width="354.8" height="3" fill="#000"/>
<rect x="557.6" y="1427" width="6.5" height="3" fill="#000"/>
<rect x="134.1" y="1056.55" width="10.7" height="2.9" fill="#000"/>
<rect x="134.1" y="1148.55" width="10.7" height="2.9" fill="#000"/>
<rect x="134.1" y="1244.15" width="10.7" height="2.9" fill="#000"/>
<rect x="134.1" y="1342.95" width="10.7" height="2.9" fill="#000"/>
<rect x="134.1" y="1384.35" width="10.7" height="2.9" fill="#000"/>
<rect x="134.1" y="1391.05" width="10.7" height="2.9" fill="#000"/>
<rect x="134.1" y="1425.95" width="10.7" height="2.9" fill="#000"/>
<rect x="137.8" y="1085.05" width="7" height="2.7" fill="#000"/>
<rect x="137.8" y="1177.35" width="7" height="2.7" fill="#000"/>
<rect x="137.8" y="1273.15" width="7" height="2.7" fill="#000"/>
<rect x="137.8" y="1362.45" width="7" height="2.7" fill="#000"/>
<rect x="137.8" y="1406.95" width="7" height="2.7" fill="#000"/>
<rect x="140.7" y="1027.55" width="4.1" height="2.7" fill="#000"/>
<rect x="140.7" y="1060.05" width="4.1" height="2.7" fill="#000"/>
<rect x="140.7" y="1065.65" width="4.1" height="2.7" fill="#000"/>
<rect x="140.7" y="1071.05" width="4.1" height="2.7" fill="#000"/>
<rect x="140.7" y="1074.25" width="4.1" height="2.7" fill="#000"/>
<rect x="140.7" y="1094.85" width="4.1" height="2.7" fill="#000"/>
<rect x="140.7" y="1104.45" width="4.1" height="2.7" fill="#000"/>
<rect x="140.7" y="1120.25" width="4.1" height="2.7" fill="#000"/>
<rect x="140.7" y="1151.65" width="4.1" height="2.7" fill="#000"/>
<rect x="140.7" y="1157.45" width="4.1" height="2.7" fill="#000"/>
<rect x="140.7" y="1161.75" width="4.1" height="2.7" fill="#000"/>
<rect x="140.7" y="1168.15" width="4.1" height="2.7" fill="#000"/>
<rect x="140.7" y="1187.05" width="4.1" height="2.7" fill="#000"/>
<rect x="140.7" y="1196.65" width="4.1" height="2.7" fill="#000"/>
<rect x="140.7" y="1212.65" width="4.1" height="2.7" fill="#000"/>
<rect x="140.7" y="1247.35" width="4.1" height="2.7" fill="#000"/>
<rect x="140.7" y="1253.05" width="4.1" height="2.7" fill="#000"/>
<rect x="140.7" y="1257.45" width="4.1" height="2.7" fill="#000"/>
<rect x="140.7" y="1266.75" width="4.1" height="2.7" fill="#000"/>
<rect x="140.7" y="1282.75" width="4.1" height="2.7" fill="#000"/>
<rect x="140.7" y="1295.15" width="4.1" height="2.7" fill="#000"/>
<rect x="140.7" y="1314.55" width="4.1" height="2.7" fill="#000"/>
<rect x="140.7" y="1359.05" width="4.1" height="2.7" fill="#000"/>
<rect x="140.7" y="1364.35" width="4.1" height="2.7" fill="#000"/>
<rect x="140.7" y="1371.95" width="4.1" height="2.7" fill="#000"/>
<rect x="140.7" y="1395.95" width="4.1" height="2.7" fill="#000"/>
<rect x="140.7" y="1403.05" width="4.1" height="2.7" fill="#000"/>
<rect x="140.7" y="1348" width="4.1" height="7.6" fill="#000"/>
<rect x="140.7" y="1385.8" width="4.1" height="6.7" fill="#000"/>
<rect x="140.7" y="1414" width="4.1" height="9.6" fill="#000"/>
<rect x="147.15" y="1431.3" width="2.9" height="13.6" fill="#000"/>
<rect x="182.97" y="1431.3" width="2.9" height="13.6" fill="#000"/>
<rect x="189.09" y="1431.3" width="2.9" height="13.6" fill="#000"/>
<rect x="231.43" y="1431.3" width="2.9" height="13.6" fill="#000"/>
<rect x="331.96" y="1431.3" width="2.9" height="13.6" fill="#000"/>
<rect x="431.99" y="1431.3" width="2.9" height="13.6" fill="#000"/>
<rect x="522.29" y="1431.3" width="2.9" height="13.6" fill="#000"/>
<rect x="167.02" y="1431.3" width="2.7" height="10.7" fill="#000"/>
<rect x="212.37" y="1431.3" width="2.7" height="10.7" fill="#000"/>
<rect x="302.67" y="1431.3" width="2.7" height="10.7" fill="#000"/>
<rect x="402.9" y="1431.3" width="2.7" height="10.7" fill="#000"/>
<rect x="496.6" y="1431.3" width="2.7" height="10.7" fill="#000"/>
<rect x="202.44" y="1431.3" width="2.7" height="7.4" fill="#000"/>
<rect x="209.56" y="1431.3" width="2.7" height="7.4" fill="#000"/>
<rect x="215.38" y="1431.3" width="2.7" height="7.4" fill="#000"/>
<rect x="260.63" y="1431.3" width="2.7" height="7.4" fill="#000"/>
<rect x="279.79" y="1431.3" width="2.7" height="7.4" fill="#000"/>
<rect x="292.73" y="1431.3" width="2.7" height="7.4" fill="#000"/>
<rect x="308.89" y="1431.3" width="2.7" height="7.4" fill="#000"/>
<rect x="326.85" y="1431.3" width="2.7" height="7.4" fill="#000"/>
<rect x="363.97" y="1431.3" width="2.7" height="7.4" fill="#000"/>
<rect x="380.02" y="1431.3" width="2.7" height="7.4" fill="#000"/>
<rect x="392.96" y="1431.3" width="2.7" height="7.4" fill="#000"/>
<rect x="409.12" y="1431.3" width="2.7" height="7.4" fill="#000"/>
<rect x="416.04" y="1431.3" width="2.7" height="7.4" fill="#000"/>
<rect x="458.08" y="1431.3" width="2.7" height="7.4" fill="#000"/>
<rect x="474.13" y="1431.3" width="2.7" height="7.4" fill="#000"/>
<rect x="486.87" y="1431.3" width="2.7" height="7.4" fill="#000"/>
<rect x="503.02" y="1431.3" width="2.7" height="7.4" fill="#000"/>
<rect x="509.45" y="1431.3" width="2.7" height="7.4" fill="#000"/>
<rect x="223.15" y="1431.3" width="5.7" height="7.4" fill="#000"/>
<rect x="319.67" y="1431.3" width="4.7" height="7.4" fill="#000"/>
<rect x="422.51" y="1431.3" width="5.7" height="7.4" fill="#000"/>
<rect x="516.21" y="1431.3" width="5.6" height="7.4" fill="#000"/>
<rect x="149.9" y="1435.9" width="12.7" height="2.4" fill="#000"/>
<rect x="166.9" y="1435.9" width="5.6" height="2.4" fill="#000"/>
<rect x="176.8" y="1435.9" width="15" height="2.4" fill="#000"/>
<rect x="551.2" y="1433.6" width="3.4" height="3.4" fill="#000"/>
<text transform="translate(126,1066.5)" font-size="28.6" text-anchor="end">10<tspan font-size="25.9" dy="-15.4">5</tspan></text>
<text transform="translate(126,1159.1)" font-size="28.6" text-anchor="end">10<tspan font-size="25.9" dy="-15.4">4</tspan></text>
<text transform="translate(126,1254.3)" font-size="28.6" text-anchor="end">10<tspan font-size="25.9" dy="-15.4">3</tspan></text>
<text transform="translate(126,1352.9)" font-size="28.6" text-anchor="end">10<tspan font-size="25.9" dy="-15.4">2</tspan></text>
<text transform="translate(124.4,1395.9)" font-size="28.6" text-anchor="end">0</text>
<text transform="translate(187.43,1474.6)" font-size="28.6" text-anchor="middle">0</text>
<text transform="translate(232.98,1474.6)" font-size="28.6" text-anchor="middle">10<tspan font-size="25.9" dy="-13.1">2</tspan></text>
<text transform="translate(332.91,1474.6)" font-size="28.6" text-anchor="middle">10<tspan font-size="25.9" dy="-13.1">3</tspan></text>
<text transform="translate(430.03,1474.6)" font-size="28.6" text-anchor="middle">10<tspan font-size="25.9" dy="-13.1">4</tspan></text>
<text transform="translate(523.94,1474.6)" font-size="28.6" text-anchor="middle">10<tspan font-size="25.9" dy="-13.1">5</tspan></text>
<text transform="translate(150.9,1056.4) scale(1,1.04)" font-size="37.9" font-weight="bold" fill="#0000ff">0</text>
<text transform="translate(555.9,1056.4) scale(1,1.04)" font-size="37.9" text-anchor="end" font-weight="bold" fill="#0000ff">100</text>
<text transform="translate(153.7,1423.6) scale(1,1.04)" font-size="37.9" font-weight="bold" fill="#0000ff">0</text>
<text transform="translate(556.4,1423.6) scale(1,1.04)" font-size="37.9" text-anchor="end" font-weight="bold" fill="#0000ff">0</text>
<rect x="897" y="1008.1" width="501.5" height="477.8" fill="#fff" stroke="#000" stroke-width="3.4"/>
<text transform="translate(884.4,1483.8) rotate(-90) scale(1,1.02)" font-size="62.2">CD27 (APC)</text>
<polygon points="863.1,1000.9 887,1065.9 877.3,1069.4 868.2,1045.5 868.2,1134.1 858,1134.1 858,1045.5 848.9,1069.4 839.2,1065.9" fill="#000"/>
<text transform="translate(898.9,1551.3) scale(1,1.02)" font-size="62.2">CD43 (FITC)</text>
<polygon points="1396.7,1527.8 1331.7,1551.7 1328.2,1542 1352.1,1532.9 1265.7,1532.9 1265.7,1522.7 1352.1,1522.7 1328.2,1513.6 1331.7,1503.9" fill="#000"/>
<g fill="none" stroke="#000" stroke-width="3.6" stroke-linejoin="round">
<path d="M1281.8 1217.6L1281.2 1218.2L1281.4 1219.4L1278.9 1222.5L1278.2 1224.5L1276.4 1224.8L1275.9 1226.1L1275.1 1226.6L1274.2 1226.4L1272.7 1229.3L1269.4 1232.2L1266.4 1230.7L1263.4 1231.4L1261.1 1230.4L1259.8 1228.7L1259.2 1226.2L1256.9 1224.8L1255.9 1222L1257.4 1218.9L1257 1217.7L1258.5 1216.5L1258.6 1215.4L1260 1214.1L1259.3 1211.8L1262.5 1211.9L1262.1 1209.4L1263.6 1208.5L1264.5 1206L1265.9 1204.4L1267 1204.2L1269.2 1202.5L1270.8 1202.5L1274.3 1201L1277 1201.8L1278.4 1203.3L1280.3 1203.8L1282 1206.5L1282.1 1209.9L1283.3 1211.1L1283.7 1212.3Z"/>
<path d="M1285.9 1217.6L1284.1 1219.9L1284.5 1221.4L1283.3 1223.1L1283.2 1224.7L1279.2 1227.4L1278 1230.2L1274.1 1231.9L1272.4 1234.7L1266.9 1235.9L1266.1 1235.8L1264.4 1234.3L1261.6 1234.6L1259.1 1234.2L1258.6 1231.7L1256 1231.1L1255.6 1229.9L1255.6 1227.9L1253.5 1226.3L1253.1 1224.7L1252.1 1223.5L1253.3 1220.9L1253.2 1218.2L1254.9 1215.5L1254.1 1212.9L1256.5 1209.4L1256.8 1207.4L1257.8 1206.5L1258.9 1203.5L1258.5 1198.4L1260.8 1194.7L1264.2 1193.9L1267.7 1194.5L1272 1192.6L1274.4 1192.8L1276.6 1192.3L1280.1 1195.7L1282.8 1199.7L1284.7 1201L1285.3 1204.6L1287.2 1209.7L1286.3 1212.7Z"/>
<path d="M1288.4 1217.6L1285.4 1226.5L1282.9 1228L1282 1231.1L1280.5 1232.1L1279 1234.6L1276.5 1234.7L1272.9 1237.7L1271 1237.8L1269 1238.8L1265 1238.9L1262.8 1238.1L1258.6 1237.8L1256.2 1236L1253.3 1234.6L1248.1 1225L1248.6 1219.1L1247.8 1216.6L1248.6 1214.3L1248.4 1212.1L1249.7 1209.9L1251.4 1208.4L1252.8 1204.4L1252.8 1200.7L1254 1196.3L1252.9 1190.2L1254.3 1187.5L1257.3 1185.3L1264.4 1182.4L1268.8 1183.1L1273 1182.8L1279.3 1184.1L1282.5 1185.7L1283.5 1187.3L1284.7 1191.6L1287.3 1195.8L1289.4 1201.8L1289.5 1204.4L1290.3 1206.7L1290.1 1209.2L1291.2 1212L1290 1215.3Z"/>
<path d="M1292.8 1217.6L1292.7 1218.7L1291.2 1220.7L1291.3 1222.8L1290.1 1226L1288.7 1228.2L1287.8 1230.6L1284.8 1233.1L1283.5 1233.6L1281.9 1235.4L1279.5 1236.4L1277.7 1237.9L1274 1239.4L1272 1241.4L1268.6 1242.6L1265.5 1241.3L1262.7 1241.6L1258.3 1241.1L1254.1 1239.4L1250.3 1236.2L1249.4 1233.6L1244.4 1227.3L1245 1224.4L1244.5 1222.4L1244.6 1220L1243.8 1218.3L1244.1 1214.6L1243.8 1212.2L1246.5 1204.1L1246.9 1199.9L1248.9 1197.9L1249.5 1196.4L1248.9 1188.1L1247.7 1182.2L1250.7 1176.6L1252.7 1175.2L1264.8 1172.6L1273.8 1173.4L1279.8 1174.8L1281.1 1175.7L1284.9 1180.5L1286.6 1185L1288.3 1187.7L1289.3 1191.4L1292.1 1195.3L1292.7 1200.7L1294.3 1205.9L1292.4 1214.5Z"/>
<path d="M1296.1 1217.6L1296.2 1220.3L1294.6 1223.4L1294.3 1225.4L1292.8 1227.1L1291.2 1230.6L1289.2 1232.3L1287.4 1235.9L1279.5 1241.5L1276.5 1241.4L1273.6 1244.3L1271.2 1244.6L1268.8 1246L1262.1 1244.4L1257.6 1244.8L1252.5 1242L1249 1241.2L1246.8 1239.9L1245.5 1235.6L1240.9 1230L1241.5 1226.4L1240.3 1222.9L1240.4 1219.9L1238.7 1212.6L1239 1207.1L1242.1 1201.3L1243.1 1197.8L1243.1 1193.5L1244.7 1189.6L1244.2 1181.6L1242.2 1173.5L1242.7 1171.7L1244.6 1168.3L1248.8 1165.6L1258.3 1163.6L1263.7 1164L1269.3 1163.1L1275.4 1164.6L1280.1 1165L1281.8 1165.8L1285.7 1170.3L1289.7 1176.9L1291.4 1183.1L1293.5 1187.8L1295.2 1193.5L1295.3 1197.7L1296.8 1200.7L1298.1 1207.2L1296.7 1211L1297.1 1213.8Z"/>
<path d="M1299.8 1217.6L1298.7 1223.1L1296.5 1226.1L1296.1 1228.8L1294.6 1231.6L1292.1 1234L1290.2 1238.9L1286.9 1240.4L1282.4 1244.2L1280.1 1244.5L1274.7 1246.8L1267.9 1248.5L1260.9 1247.4L1256.6 1247.7L1254 1246.4L1250.8 1245.9L1248.2 1243.9L1243.3 1242.3L1239.7 1233.8L1237.3 1230.6L1236 1221.8L1233.2 1213.7L1236 1204.4L1236.1 1201.3L1237.3 1197.7L1237.6 1193.4L1239.3 1189.2L1240 1185.7L1238.8 1174.2L1236.6 1164.7L1239.9 1157.8L1244.9 1154.8L1249.5 1153.5L1253 1153.1L1262 1154.3L1270.9 1152.9L1283 1155.2L1284 1155.7L1287.5 1161.3L1290.8 1165.5L1296.2 1179.9L1299.5 1198.3L1301.4 1204.1L1301.6 1209.5L1299.6 1213.7Z"/>
<path d="M1302.8 1217.6L1301.8 1222.3L1299.7 1226L1299.6 1230L1297.1 1234.6L1295 1236.5L1292.5 1240.9L1290.6 1243.1L1287.6 1244.7L1285.8 1246.8L1283 1249L1278.7 1250L1274 1249.9L1270.6 1252L1269.4 1252.3L1265.3 1250.9L1256.7 1250.4L1252.3 1250.7L1246.3 1247.2L1240.6 1245.8L1239.7 1245.2L1236.9 1237.6L1234.9 1234.8L1233.3 1230.7L1232.3 1226.7L1231.9 1221.9L1228.9 1214.7L1229.3 1212.2L1228.8 1208.4L1230.5 1205L1231.1 1201.3L1232.3 1198.2L1235.1 1180.5L1235 1169L1232 1157.4L1233.5 1149.8L1235.1 1147L1238.6 1144.7L1240.6 1144.1L1251.1 1143.3L1269.7 1143.1L1284.6 1147.3L1288.8 1150.8L1291.5 1154.1L1293.8 1157.9L1297.1 1168.1L1298.6 1178.6L1301 1184.1L1301.4 1189.1L1304.2 1201L1304.3 1207.8L1304.8 1210.2Z"/>
<path d="M1308.1 1217.6L1304 1226.6L1303.3 1231.3L1298 1237.7L1295.7 1243.9L1285.3 1252.1L1281.5 1251.9L1279.1 1253L1269.6 1255.4L1266.4 1254.4L1252.8 1253.5L1249.9 1252.2L1246.5 1251.5L1243.4 1249.6L1238 1247.7L1237 1247L1232.8 1240.1L1225 1219.2L1224.3 1210.7L1223.5 1207.2L1225 1201.5L1225.3 1198L1228.9 1184.7L1229.6 1178.2L1230.8 1173.7L1229.8 1161.8L1226.2 1148.3L1228.9 1139.7L1230.9 1136.9L1234.7 1133.7L1237 1133L1249.2 1132.9L1259.3 1133.7L1269.6 1132.5L1271.8 1132.9L1279.6 1136.3L1286.4 1138.4L1288.3 1139.7L1296.3 1151.6L1299.1 1159.9L1300.8 1167.8L1303.3 1176L1304.3 1184.2L1306.2 1189.5L1307.3 1194.9L1307.3 1198.7L1308.4 1205.2L1307.8 1209.3L1309.3 1214.8Z"/>
<path d="M1310.5 1217.6L1308.7 1226.1L1305.7 1230.8L1304.4 1235.7L1299.9 1244.3L1296.3 1248.5L1290.1 1252.5L1287.2 1253.8L1284.6 1255.8L1282.5 1256.2L1279.2 1255.9L1276.2 1256.9L1271.7 1257.1L1267.1 1258.1L1263 1257L1258.4 1257.8L1255.3 1257.7L1244.4 1254.6L1235.1 1250.4L1233.5 1246.3L1230.4 1242.5L1226.5 1235.7L1222.5 1226.4L1221.7 1222.3L1220 1218L1219.7 1213.1L1218.3 1207.5L1219.3 1201L1221.7 1196.4L1223.2 1189.2L1223.2 1183.4L1224.6 1178.6L1226.3 1168.7L1225.1 1155.4L1221.4 1143.7L1220.5 1139.4L1221.3 1136L1223.7 1129.9L1224.8 1128.3L1229.9 1124.7L1233.3 1123.6L1252 1123.2L1261.3 1123.9L1269.5 1123.3L1283.9 1126.8L1287.6 1128.3L1289.8 1129.8L1299.6 1143.2L1304.8 1165.5L1307.2 1173.6L1308.6 1183.1L1309.2 1190.4L1312 1197.2L1311.6 1201.3L1312.7 1207.8Z"/>
<path d="M1315.9 1217.6L1313.7 1221.4L1312.3 1226.9L1305.2 1239.4L1303.5 1244.9L1298 1250.6L1294.9 1256.2L1289.8 1259.5L1285.8 1260.2L1281 1262L1276.5 1261.8L1271.5 1262.4L1267.2 1262.1L1263.6 1262.5L1257.9 1262.2L1253.2 1263.3L1245.5 1264.3L1237.5 1262.8L1232.3 1259.8L1225.8 1258.3L1223.8 1257.3L1220.9 1254.8L1218.1 1248.9L1216.4 1241L1216.3 1235.7L1214.9 1231.4L1214 1226L1211.6 1221.7L1210.4 1209.1L1212.3 1198.2L1212 1189.8L1212.9 1181L1213 1165.9L1214.3 1154.3L1214.1 1138.8L1213.2 1127.9L1214.6 1121.2L1216.7 1116.8L1218.8 1114.3L1224.8 1110.4L1228.6 1108.8L1235.9 1108.4L1244.7 1106.6L1255.7 1106.9L1269.4 1110L1281.8 1116.5L1290.4 1118.6L1299.3 1125.7L1304 1132.1L1307.7 1142.5L1313.5 1180.7L1316.1 1187.3L1316.2 1196.6L1314.8 1202.7L1316.8 1207.7L1316 1212.8L1316.4 1216Z"/>
<path d="M1319.4 1217.6L1317.7 1219.6L1315.3 1229.6L1312.2 1234.9L1307.7 1244.2L1304.3 1247.1L1302.4 1252.6L1299.1 1255.8L1296.4 1260.2L1291.8 1263.8L1286.8 1265.6L1277.6 1266.7L1260.1 1267.7L1256.5 1267.4L1250.4 1270.7L1243.8 1271.9L1231.4 1271.1L1225.3 1267.6L1215.7 1265L1210.6 1260.9L1207.6 1256.7L1206.9 1254.9L1206.5 1227.1L1205.7 1225.5L1202.5 1222.3L1202.9 1216.4L1201.4 1210.3L1201.5 1198.5L1202.9 1186.1L1202 1168L1202.1 1130.3L1202.5 1125.9L1206.6 1109.4L1208.6 1106.2L1213.2 1100.4L1223 1094.5L1231.1 1093.3L1238.5 1090.1L1244.3 1089.7L1251.2 1090L1254.8 1091.1L1261.7 1094.8L1272.4 1099.4L1282.2 1104.4L1293 1106.2L1300 1110.5L1303.2 1113.1L1309.2 1121.3L1313.4 1131.1L1314.4 1134.6L1317.1 1164.7L1320.4 1182.5L1321.3 1191.6L1320.5 1201.3L1321.6 1206.7L1321.6 1210.4L1321.1 1215.4Z"/>
</g>
<rect x="1208.1" y="1019.1" width="3.2" height="409" fill="#0000ff"/>
<rect x="976.5" y="1260" width="413.5" height="3.4" fill="#0000ff"/>
<rect x="973.7" y="1016.3" width="2.8" height="414.8" fill="#000"/>
<rect x="1390.2" y="1016.3" width="3.1" height="414.8" fill="#000"/>
<rect x="973.7" y="1016.3" width="419.6" height="3.1" fill="#000"/>
<rect x="973.7" y="1428.4" width="390.3" height="2.7" fill="#000"/>
<rect x="1006.5" y="1424.9" width="357.5" height="6.2" fill="#000"/>
<rect x="973.7" y="1424.9" width="5.9" height="6.2" fill="#000"/>
<rect x="1387.1" y="1424.9" width="6.2" height="6.2" fill="#000"/>
<rect x="963.9" y="1059.25" width="10.3" height="2.9" fill="#000"/>
<rect x="963.9" y="1151.65" width="10.3" height="2.9" fill="#000"/>
<rect x="963.9" y="1247.15" width="10.3" height="2.9" fill="#000"/>
<rect x="963.9" y="1346.25" width="10.3" height="2.9" fill="#000"/>
<rect x="963.9" y="1418.55" width="10.3" height="2.9" fill="#000"/>
<rect x="967" y="1085.45" width="7.2" height="2.7" fill="#000"/>
<rect x="967" y="1177.85" width="7.2" height="2.7" fill="#000"/>
<rect x="967" y="1277.15" width="7.2" height="2.7" fill="#000"/>
<rect x="967" y="1362.65" width="7.2" height="2.7" fill="#000"/>
<rect x="967" y="1402.35" width="7.2" height="2.7" fill="#000"/>
<rect x="970.1" y="1032.85" width="4.1" height="2.7" fill="#000"/>
<rect x="970.1" y="1079.45" width="4.1" height="2.7" fill="#000"/>
<rect x="970.1" y="1095.75" width="4.1" height="2.7" fill="#000"/>
<rect x="970.1" y="1105.55" width="4.1" height="2.7" fill="#000"/>
<rect x="970.1" y="1122.05" width="4.1" height="2.7" fill="#000"/>
<rect x="970.1" y="1164.45" width="4.1" height="2.7" fill="#000"/>
<rect x="970.1" y="1171.35" width="4.1" height="2.7" fill="#000"/>
<rect x="970.1" y="1187.85" width="4.1" height="2.7" fill="#000"/>
<rect x="970.1" y="1201.05" width="4.1" height="2.7" fill="#000"/>
<rect x="970.1" y="1217.55" width="4.1" height="2.7" fill="#000"/>
<rect x="970.1" y="1260.45" width="4.1" height="2.7" fill="#000"/>
<rect x="970.1" y="1267.15" width="4.1" height="2.7" fill="#000"/>
<rect x="970.1" y="1286.95" width="4.1" height="2.7" fill="#000"/>
<rect x="970.1" y="1299.95" width="4.1" height="2.7" fill="#000"/>
<rect x="970.1" y="1316.65" width="4.1" height="2.7" fill="#000"/>
<rect x="970.1" y="1392.45" width="4.1" height="2.7" fill="#000"/>
<rect x="970.1" y="1062.4" width="4.1" height="3.6" fill="#000"/>
<rect x="970.1" y="1069.8" width="4.1" height="5.3" fill="#000"/>
<rect x="970.1" y="1153.4" width="4.1" height="7.1" fill="#000"/>
<rect x="970.1" y="1248.9" width="4.1" height="7.3" fill="#000"/>
<rect x="970.1" y="1348.9" width="4.1" height="3.5" fill="#000"/>
<rect x="970.1" y="1355.9" width="4.1" height="15.9" fill="#000"/>
<rect x="970.1" y="1398.6" width="4.1" height="21.1" fill="#000"/>
<rect x="963.9" y="1382.4" width="10.3" height="6.2" fill="#000"/>
<rect x="980.05" y="1431" width="2.9" height="10.1" fill="#000"/>
<rect x="1057.85" y="1431" width="2.9" height="10.1" fill="#000"/>
<rect x="1158.65" y="1431" width="2.9" height="10.1" fill="#000"/>
<rect x="1253.15" y="1431" width="2.9" height="10.1" fill="#000"/>
<rect x="1347.55" y="1431" width="2.9" height="10.1" fill="#000"/>
<rect x="1015.9" y="1431" width="6.1" height="10.1" fill="#000"/>
<rect x="999.45" y="1431" width="2.7" height="6.8" fill="#000"/>
<rect x="1038.35" y="1431" width="2.7" height="6.8" fill="#000"/>
<rect x="1126.45" y="1431" width="2.7" height="6.8" fill="#000"/>
<rect x="1227.15" y="1431" width="2.7" height="6.8" fill="#000"/>
<rect x="1321.55" y="1431" width="2.7" height="6.8" fill="#000"/>
<rect x="1084.15" y="1431" width="2.7" height="3.9" fill="#000"/>
<rect x="1103.65" y="1431" width="2.7" height="3.9" fill="#000"/>
<rect x="1116.55" y="1431" width="2.7" height="3.9" fill="#000"/>
<rect x="1136.15" y="1431" width="2.7" height="3.9" fill="#000"/>
<rect x="1141.85" y="1431" width="2.7" height="3.9" fill="#000"/>
<rect x="1188.15" y="1431" width="2.7" height="3.9" fill="#000"/>
<rect x="1204.55" y="1431" width="2.7" height="3.9" fill="#000"/>
<rect x="1217.55" y="1431" width="2.7" height="3.9" fill="#000"/>
<rect x="1234.05" y="1431" width="2.7" height="3.9" fill="#000"/>
<rect x="1240.25" y="1431" width="2.7" height="3.9" fill="#000"/>
<rect x="1282.65" y="1431" width="2.7" height="3.9" fill="#000"/>
<rect x="1298.95" y="1431" width="2.7" height="3.9" fill="#000"/>
<rect x="1312.05" y="1431" width="2.7" height="3.9" fill="#000"/>
<rect x="1328.05" y="1431" width="2.7" height="3.9" fill="#000"/>
<rect x="1151.6" y="1431" width="4.4" height="3.9" fill="#000"/>
<rect x="1247.2" y="1431" width="5.7" height="3.9" fill="#000"/>
<rect x="1334.9" y="1431" width="11.1" height="3.9" fill="#000"/>
<rect x="980.1" y="1431.5" width="16" height="3.3" fill="#000"/>
<rect x="1002.7" y="1431.5" width="9.4" height="3.3" fill="#000"/>
<rect x="1031.9" y="1431.5" width="16" height="3.3" fill="#000"/>
<rect x="1051.7" y="1431.5" width="8.5" height="3.3" fill="#000"/>
<rect x="1377.1" y="1431.5" width="3.5" height="3.5" fill="#000"/>
<text transform="translate(955.4,1072.6)" font-size="28.6" text-anchor="end">10<tspan font-size="25.9" dy="-15.4">5</tspan></text>
<text transform="translate(955.4,1164.9)" font-size="28.6" text-anchor="end">10<tspan font-size="25.9" dy="-15.4">4</tspan></text>
<text transform="translate(955.4,1260.5)" font-size="28.6" text-anchor="end">10<tspan font-size="25.9" dy="-15.4">3</tspan></text>
<text transform="translate(955.4,1359.5)" font-size="28.6" text-anchor="end">10<tspan font-size="25.9" dy="-15.4">2</tspan></text>
<text transform="translate(953.8,1397)" font-size="28.6" text-anchor="end">0</text>
<text transform="translate(1017.3,1474.5)" font-size="28.6" text-anchor="middle">0</text>
<text transform="translate(1056.6,1474.5)" font-size="28.6" text-anchor="middle">10<tspan font-size="25.9" dy="-13.1">2</tspan></text>
<text transform="translate(1157.2,1474.5)" font-size="28.6" text-anchor="middle">10<tspan font-size="25.9" dy="-13.1">3</tspan></text>
<text transform="translate(1254.1,1474.5)" font-size="28.6" text-anchor="middle">10<tspan font-size="25.9" dy="-13.1">4</tspan></text>
<text transform="translate(1349.1,1474.5)" font-size="28.6" text-anchor="middle">10<tspan font-size="25.9" dy="-13.1">5</tspan></text>
<text transform="translate(980,1056.3) scale(1,1.04)" font-size="37.9" font-weight="bold" fill="#0000ff">0</text>
<text transform="translate(1384.9,1056) scale(1,1.04)" font-size="37.9" text-anchor="end" font-weight="bold" fill="#0000ff">100</text>
<text transform="translate(983.3,1422.2) scale(1,1.04)" font-size="37.9" font-weight="bold" fill="#0000ff">0</text>
<text transform="translate(1385.5,1422.2) scale(1,1.04)" font-size="37.9" text-anchor="end" font-weight="bold" fill="#0000ff">0</text>
<line x1="1752.9" y1="57.9" x2="1752.9" y2="720.8" stroke="#000" stroke-width="3.4" stroke-linecap="square"/>
<line x1="1743.4" y1="720.8" x2="2493.5" y2="720.8" stroke="#000" stroke-width="3.4" stroke-linecap="round"/>
<text transform="translate(1741.4,743.2) scale(1.145,1)" font-size="66.8" text-anchor="end">0</text>
<line x1="1743.4" y1="588.22" x2="1752.9" y2="588.22" stroke="#000" stroke-width="3.2" stroke-linecap="round"/>
<text transform="translate(1741.4,610.62) scale(1.145,1)" font-size="66.8" text-anchor="end">5</text>
<line x1="1743.4" y1="455.64" x2="1752.9" y2="455.64" stroke="#000" stroke-width="3.2" stroke-linecap="round"/>
<text transform="translate(1741.4,478.04) scale(1.145,1)" font-size="66.8" text-anchor="end">10</text>
<line x1="1743.4" y1="323.06" x2="1752.9" y2="323.06" stroke="#000" stroke-width="3.2" stroke-linecap="round"/>
<text transform="translate(1741.4,345.46) scale(1.145,1)" font-size="66.8" text-anchor="end">15</text>
<line x1="1743.4" y1="190.48" x2="1752.9" y2="190.48" stroke="#000" stroke-width="3.2" stroke-linecap="round"/>
<text transform="translate(1741.4,212.88) scale(1.145,1)" font-size="66.8" text-anchor="end">20</text>
<line x1="1743.4" y1="57.9" x2="1752.9" y2="57.9" stroke="#000" stroke-width="3.2" stroke-linecap="round"/>
<text transform="translate(1741.4,80.3) scale(1.145,1)" font-size="66.8" text-anchor="end">25</text>
<line x1="1937.8" y1="720.8" x2="1937.8" y2="729.4" stroke="#000" stroke-width="3.4" stroke-linecap="round"/>
<line x1="2308.4" y1="720.8" x2="2308.4" y2="729.4" stroke="#000" stroke-width="3.4" stroke-linecap="round"/>
<text transform="translate(1937.2,811.3) scale(1,1.02)" font-size="62.2" text-anchor="middle">LSR-II</text>
<text transform="translate(2310.6,811.3) scale(1,1.02)" font-size="62.2" text-anchor="middle">Gallios</text>
<text transform="translate(1554,402.85) rotate(-90) scale(1,1.02)" font-size="62.2" text-anchor="middle">CD27<tspan font-size="41.5" dy="-23.6">+</tspan><tspan dy="23.6">CD43</tspan><tspan font-size="41.5" dy="-23.6">+</tspan></text>
<text transform="translate(1640.1,402.85) rotate(-90) scale(1,1.02)" font-size="62.2" text-anchor="middle">(% of total CD20<tspan font-size="41.5" dy="-23.6">+</tspan><tspan dy="23.6"> cells)</tspan></text>
<ellipse cx="1937.83" cy="550.86" rx="9" ry="8.05"/>
<ellipse cx="1937.83" cy="604.18" rx="9" ry="8.05"/>
<ellipse cx="2031.12" cy="620.73" rx="9" ry="8.05"/>
<ellipse cx="1844.53" cy="628.31" rx="9" ry="8.05"/>
<ellipse cx="2004.47" cy="633.92" rx="9" ry="8.05"/>
<ellipse cx="1871.19" cy="636.44" rx="9" ry="8.05"/>
<ellipse cx="1977.81" cy="638.97" rx="9" ry="8.05"/>
<ellipse cx="1897.85" cy="641.35" rx="9" ry="8.05"/>
<ellipse cx="1951.16" cy="641.35" rx="9" ry="8.05"/>
<ellipse cx="1924.5" cy="643.18" rx="9" ry="8.05"/>
<ellipse cx="2049.08" cy="647.38" rx="9" ry="8.05"/>
<ellipse cx="1826.72" cy="648.09" rx="9" ry="8.05"/>
<ellipse cx="2026.91" cy="649.07" rx="9" ry="8.05"/>
<ellipse cx="1848.74" cy="651.17" rx="9" ry="8.05"/>
<ellipse cx="2004.47" cy="653.98" rx="9" ry="8.05"/>
<ellipse cx="1871.19" cy="660.29" rx="9" ry="8.05"/>
<ellipse cx="1982.3" cy="660.71" rx="9" ry="8.05"/>
<ellipse cx="1893.36" cy="661.69" rx="9" ry="8.05"/>
<ellipse cx="1959.99" cy="661.98" rx="9" ry="8.05"/>
<ellipse cx="1915.38" cy="663.1" rx="9" ry="8.05"/>
<ellipse cx="1937.83" cy="668.01" rx="9" ry="8.05"/>
<ellipse cx="1831.21" cy="670.81" rx="9" ry="8.05"/>
<ellipse cx="2044.59" cy="677.13" rx="9" ry="8.05"/>
<ellipse cx="1857.86" cy="677.55" rx="9" ry="8.05"/>
<ellipse cx="2017.79" cy="682.04" rx="9" ry="8.05"/>
<ellipse cx="1884.38" cy="687.93" rx="9" ry="8.05"/>
<ellipse cx="1991.14" cy="690.03" rx="9" ry="8.05"/>
<ellipse cx="1911.03" cy="690.59" rx="9" ry="8.05"/>
<ellipse cx="1964.48" cy="693.26" rx="9" ry="8.05"/>
<ellipse cx="1937.83" cy="693.68" rx="9" ry="8.05"/>
<rect x="2299.2" y="169.05" width="18.2" height="16.1" fill="#000"/>
<rect x="2312.4" y="219.15" width="18.2" height="16.1" fill="#000"/>
<rect x="2285.8" y="227.25" width="18.2" height="16.1" fill="#000"/>
<rect x="2299.2" y="338.85" width="18.2" height="16.1" fill="#000"/>
<rect x="2312.4" y="349.35" width="18.2" height="16.1" fill="#000"/>
<rect x="2285.8" y="370.55" width="18.2" height="16.1" fill="#000"/>
<rect x="2299.2" y="439.45" width="18.2" height="16.1" fill="#000"/>
<rect x="2272.6" y="450.75" width="18.2" height="16.1" fill="#000"/>
<rect x="2326" y="460.95" width="18.2" height="16.1" fill="#000"/>
<rect x="2299.2" y="471.85" width="18.2" height="16.1" fill="#000"/>
<rect x="2352.7" y="490.35" width="18.2" height="16.1" fill="#000"/>
<rect x="2246" y="497.85" width="18.2" height="16.1" fill="#000"/>
<rect x="2326" y="498.25" width="18.2" height="16.1" fill="#000"/>
<rect x="2272.6" y="503.95" width="18.2" height="16.1" fill="#000"/>
<rect x="2299.2" y="513.75" width="18.2" height="16.1" fill="#000"/>
<rect x="2246" y="531.65" width="18.2" height="16.1" fill="#000"/>
<rect x="2352.7" y="535.35" width="18.2" height="16.1" fill="#000"/>
<rect x="2272.6" y="541.65" width="18.2" height="16.1" fill="#000"/>
<rect x="2326" y="545.65" width="18.2" height="16.1" fill="#000"/>
<rect x="2299.2" y="546.05" width="18.2" height="16.1" fill="#000"/>
<rect x="2326" y="568.75" width="18.2" height="16.1" fill="#000"/>
<rect x="2272.6" y="574.95" width="18.2" height="16.1" fill="#000"/>
<rect x="2299.2" y="587.95" width="18.2" height="16.1" fill="#000"/>
<rect x="2272.6" y="597.65" width="18.2" height="16.1" fill="#000"/>
<rect x="2326" y="609.35" width="18.2" height="16.1" fill="#000"/>
<rect x="2299.2" y="620.65" width="18.2" height="16.1" fill="#000"/>
<rect x="2326" y="632.15" width="18.2" height="16.1" fill="#000"/>
<rect x="2272.6" y="637.85" width="18.2" height="16.1" fill="#000"/>
<rect x="2299.2" y="644.75" width="18.2" height="16.1" fill="#000"/>
<rect x="2299.2" y="668.85" width="18.2" height="16.1" fill="#000"/>
<line x1="1815.8" y1="654.3" x2="2059.9" y2="654.3" stroke="#000" stroke-width="2.8" stroke-linecap="round"/>
<line x1="1876.6" y1="648.4" x2="1999.1" y2="648.4" stroke="#000" stroke-width="2.5" stroke-linecap="round"/>
<line x1="1876.6" y1="659.6" x2="1999.1" y2="659.6" stroke="#000" stroke-width="2.5" stroke-linecap="round"/>
<line x1="1937.8" y1="648.4" x2="1937.8" y2="659.6" stroke="#000" stroke-width="2.5"/>
<line x1="2186.5" y1="502.8" x2="2430.3" y2="502.8" stroke="#000" stroke-width="2.8" stroke-linecap="round"/>
<line x1="2246.9" y1="479.5" x2="2369.6" y2="479.5" stroke="#000" stroke-width="2.5" stroke-linecap="round"/>
<line x1="2246.9" y1="526.5" x2="2369.6" y2="526.5" stroke="#000" stroke-width="2.5" stroke-linecap="round"/>
<line x1="2308.3" y1="479.5" x2="2308.3" y2="526.5" stroke="#000" stroke-width="2.5"/>
<line x1="1752.9" y1="905.9" x2="1752.9" y2="1569.6" stroke="#000" stroke-width="3.4" stroke-linecap="square"/>
<line x1="1743.4" y1="1569.6" x2="2493.5" y2="1569.6" stroke="#000" stroke-width="3.4" stroke-linecap="round"/>
<text transform="translate(1741.4,1592) scale(1.145,1)" font-size="66.8" text-anchor="end">0</text>
<line x1="1743.4" y1="1436.86" x2="1752.9" y2="1436.86" stroke="#000" stroke-width="3.2" stroke-linecap="round"/>
<text transform="translate(1741.4,1459.26) scale(1.145,1)" font-size="66.8" text-anchor="end">5</text>
<line x1="1743.4" y1="1304.12" x2="1752.9" y2="1304.12" stroke="#000" stroke-width="3.2" stroke-linecap="round"/>
<text transform="translate(1741.4,1326.52) scale(1.145,1)" font-size="66.8" text-anchor="end">10</text>
<line x1="1743.4" y1="1171.38" x2="1752.9" y2="1171.38" stroke="#000" stroke-width="3.2" stroke-linecap="round"/>
<text transform="translate(1741.4,1193.78) scale(1.145,1)" font-size="66.8" text-anchor="end">15</text>
<line x1="1743.4" y1="1038.64" x2="1752.9" y2="1038.64" stroke="#000" stroke-width="3.2" stroke-linecap="round"/>
<text transform="translate(1741.4,1061.04) scale(1.145,1)" font-size="66.8" text-anchor="end">20</text>
<line x1="1743.4" y1="905.9" x2="1752.9" y2="905.9" stroke="#000" stroke-width="3.2" stroke-linecap="round"/>
<text transform="translate(1741.4,928.3) scale(1.145,1)" font-size="66.8" text-anchor="end">25</text>
<line x1="1937.8" y1="1569.6" x2="1937.8" y2="1578.2" stroke="#000" stroke-width="3.4" stroke-linecap="round"/>
<line x1="2308.4" y1="1569.6" x2="2308.4" y2="1578.2" stroke="#000" stroke-width="3.4" stroke-linecap="round"/>
<text transform="translate(1937.2,1660.1) scale(1,1.02)" font-size="62.2" text-anchor="middle">LSR-II</text>
<text transform="translate(2310.6,1660.1) scale(1,1.02)" font-size="62.2" text-anchor="middle">Gallios</text>
<text transform="translate(1554,1251.25) rotate(-90) scale(1,1.02)" font-size="62.2" text-anchor="middle">CD27<tspan font-size="41.5" dy="-23.6">+</tspan><tspan dy="23.6">CD43</tspan><tspan font-size="41.5" dy="-23.6">+</tspan></text>
<text transform="translate(1640.1,1251.25) rotate(-90) scale(1,1.02)" font-size="62.2" text-anchor="middle">(% of total CD20<tspan font-size="41.5" dy="-23.6">+</tspan><tspan dy="23.6"> cells)</tspan></text>
<line x1="1937.8" y1="1399.43" x2="2308.4" y2="1296.16" stroke="#000" stroke-width="2.6"/>
<line x1="1937.8" y1="1452.79" x2="2308.4" y2="1328.01" stroke="#000" stroke-width="2.6"/>
<line x1="1937.8" y1="1469.51" x2="2308.4" y2="1195.27" stroke="#000" stroke-width="2.6"/>
<line x1="1937.8" y1="1476.95" x2="2308.4" y2="1227.13" stroke="#000" stroke-width="2.6"/>
<line x1="1937.8" y1="1482.52" x2="2308.4" y2="1025.37" stroke="#000" stroke-width="2.6"/>
<line x1="1937.8" y1="1485.18" x2="2308.4" y2="1075.81" stroke="#000" stroke-width="2.6"/>
<line x1="1937.8" y1="1487.83" x2="2308.4" y2="1205.89" stroke="#000" stroke-width="2.6"/>
<line x1="1937.8" y1="1489.96" x2="2308.4" y2="1083.77" stroke="#000" stroke-width="2.6"/>
<line x1="1937.8" y1="1489.96" x2="2308.4" y2="1346.6" stroke="#000" stroke-width="2.6"/>
<line x1="1937.8" y1="1491.81" x2="2308.4" y2="1354.56" stroke="#000" stroke-width="2.6"/>
<line x1="1937.8" y1="1496.06" x2="2308.4" y2="1354.56" stroke="#000" stroke-width="2.6"/>
<line x1="1937.8" y1="1496.86" x2="2308.4" y2="1359.87" stroke="#000" stroke-width="2.6"/>
<line x1="1937.8" y1="1497.92" x2="2308.4" y2="1389.07" stroke="#000" stroke-width="2.6"/>
<line x1="1937.8" y1="1500.04" x2="2308.4" y2="1370.49" stroke="#000" stroke-width="2.6"/>
<line x1="1937.8" y1="1502.7" x2="2308.4" y2="1391.73" stroke="#000" stroke-width="2.6"/>
<line x1="1937.8" y1="1509.07" x2="2308.4" y2="1398.37" stroke="#000" stroke-width="2.6"/>
<line x1="1937.8" y1="1509.34" x2="2308.4" y2="1402.35" stroke="#000" stroke-width="2.6"/>
<line x1="1937.8" y1="1510.4" x2="2308.4" y2="1402.35" stroke="#000" stroke-width="2.6"/>
<line x1="1937.8" y1="1510.66" x2="2308.4" y2="1426.24" stroke="#000" stroke-width="2.6"/>
<line x1="1937.8" y1="1511.73" x2="2308.4" y2="1431.55" stroke="#000" stroke-width="2.6"/>
<line x1="1937.8" y1="1516.77" x2="2308.4" y2="1444.82" stroke="#000" stroke-width="2.6"/>
<line x1="1937.8" y1="1519.69" x2="2308.4" y2="1455.44" stroke="#000" stroke-width="2.6"/>
<line x1="1937.8" y1="1525.8" x2="2308.4" y2="1317.39" stroke="#000" stroke-width="2.6"/>
<line x1="1937.8" y1="1526.33" x2="2308.4" y2="1466.06" stroke="#000" stroke-width="2.6"/>
<line x1="1937.8" y1="1530.84" x2="2308.4" y2="1476.68" stroke="#000" stroke-width="2.6"/>
<line x1="1937.8" y1="1536.68" x2="2308.4" y2="1306.77" stroke="#000" stroke-width="2.6"/>
<line x1="1937.8" y1="1538.8" x2="2308.4" y2="1489.96" stroke="#000" stroke-width="2.6"/>
<line x1="1937.8" y1="1539.34" x2="2308.4" y2="1495.27" stroke="#000" stroke-width="2.6"/>
<line x1="1937.8" y1="1541.99" x2="2308.4" y2="1500.58" stroke="#000" stroke-width="2.6"/>
<line x1="1937.8" y1="1542.52" x2="2308.4" y2="1525.8" stroke="#000" stroke-width="2.6"/>
<ellipse cx="1937.8" cy="1399.43" rx="9" ry="8.05"/>
<rect x="2299.3" y="1288.11" width="18.2" height="16.1" fill="#000"/>
<ellipse cx="1937.8" cy="1452.79" rx="9" ry="8.05"/>
<rect x="2299.3" y="1319.96" width="18.2" height="16.1" fill="#000"/>
<ellipse cx="1937.8" cy="1469.51" rx="9" ry="8.05"/>
<rect x="2299.3" y="1187.22" width="18.2" height="16.1" fill="#000"/>
<ellipse cx="1937.8" cy="1476.95" rx="9" ry="8.05"/>
<rect x="2299.3" y="1219.08" width="18.2" height="16.1" fill="#000"/>
<ellipse cx="1937.8" cy="1482.52" rx="9" ry="8.05"/>
<rect x="2299.3" y="1017.32" width="18.2" height="16.1" fill="#000"/>
<ellipse cx="1937.8" cy="1485.18" rx="9" ry="8.05"/>
<rect x="2299.3" y="1067.76" width="18.2" height="16.1" fill="#000"/>
<ellipse cx="1937.8" cy="1487.83" rx="9" ry="8.05"/>
<rect x="2299.3" y="1197.84" width="18.2" height="16.1" fill="#000"/>
<ellipse cx="1937.8" cy="1489.96" rx="9" ry="8.05"/>
<rect x="2299.3" y="1075.72" width="18.2" height="16.1" fill="#000"/>
<ellipse cx="1937.8" cy="1489.96" rx="9" ry="8.05"/>
<rect x="2299.3" y="1338.55" width="18.2" height="16.1" fill="#000"/>
<ellipse cx="1937.8" cy="1491.81" rx="9" ry="8.05"/>
<rect x="2299.3" y="1346.51" width="18.2" height="16.1" fill="#000"/>
<ellipse cx="1937.8" cy="1496.06" rx="9" ry="8.05"/>
<rect x="2299.3" y="1346.51" width="18.2" height="16.1" fill="#000"/>
<ellipse cx="1937.8" cy="1496.86" rx="9" ry="8.05"/>
<rect x="2299.3" y="1351.82" width="18.2" height="16.1" fill="#000"/>
<ellipse cx="1937.8" cy="1497.92" rx="9" ry="8.05"/>
<rect x="2299.3" y="1381.02" width="18.2" height="16.1" fill="#000"/>
<ellipse cx="1937.8" cy="1500.04" rx="9" ry="8.05"/>
<rect x="2299.3" y="1362.44" width="18.2" height="16.1" fill="#000"/>
<ellipse cx="1937.8" cy="1502.7" rx="9" ry="8.05"/>
<rect x="2299.3" y="1383.68" width="18.2" height="16.1" fill="#000"/>
<ellipse cx="1937.8" cy="1509.07" rx="9" ry="8.05"/>
<rect x="2299.3" y="1390.32" width="18.2" height="16.1" fill="#000"/>
<ellipse cx="1937.8" cy="1509.34" rx="9" ry="8.05"/>
<rect x="2299.3" y="1394.3" width="18.2" height="16.1" fill="#000"/>
<ellipse cx="1937.8" cy="1510.4" rx="9" ry="8.05"/>
<rect x="2299.3" y="1394.3" width="18.2" height="16.1" fill="#000"/>
<ellipse cx="1937.8" cy="1510.66" rx="9" ry="8.05"/>
<rect x="2299.3" y="1418.19" width="18.2" height="16.1" fill="#000"/>
<ellipse cx="1937.8" cy="1511.73" rx="9" ry="8.05"/>
<rect x="2299.3" y="1423.5" width="18.2" height="16.1" fill="#000"/>
<ellipse cx="1937.8" cy="1516.77" rx="9" ry="8.05"/>
<rect x="2299.3" y="1436.77" width="18.2" height="16.1" fill="#000"/>
<ellipse cx="1937.8" cy="1519.69" rx="9" ry="8.05"/>
<rect x="2299.3" y="1447.39" width="18.2" height="16.1" fill="#000"/>
<ellipse cx="1937.8" cy="1525.8" rx="9" ry="8.05"/>
<rect x="2299.3" y="1309.34" width="18.2" height="16.1" fill="#000"/>
<ellipse cx="1937.8" cy="1526.33" rx="9" ry="8.05"/>
<rect x="2299.3" y="1458.01" width="18.2" height="16.1" fill="#000"/>
<ellipse cx="1937.8" cy="1530.84" rx="9" ry="8.05"/>
<rect x="2299.3" y="1468.63" width="18.2" height="16.1" fill="#000"/>
<ellipse cx="1937.8" cy="1536.68" rx="9" ry="8.05"/>
<rect x="2299.3" y="1298.72" width="18.2" height="16.1" fill="#000"/>
<ellipse cx="1937.8" cy="1538.8" rx="9" ry="8.05"/>
<rect x="2299.3" y="1481.91" width="18.2" height="16.1" fill="#000"/>
<ellipse cx="1937.8" cy="1539.34" rx="9" ry="8.05"/>
<rect x="2299.3" y="1487.22" width="18.2" height="16.1" fill="#000"/>
<ellipse cx="1937.8" cy="1541.99" rx="9" ry="8.05"/>
<rect x="2299.3" y="1492.53" width="18.2" height="16.1" fill="#000"/>
<ellipse cx="1937.8" cy="1542.52" rx="9" ry="8.05"/>
<rect x="2299.3" y="1517.75" width="18.2" height="16.1" fill="#000"/>
</svg>
</body></html>
